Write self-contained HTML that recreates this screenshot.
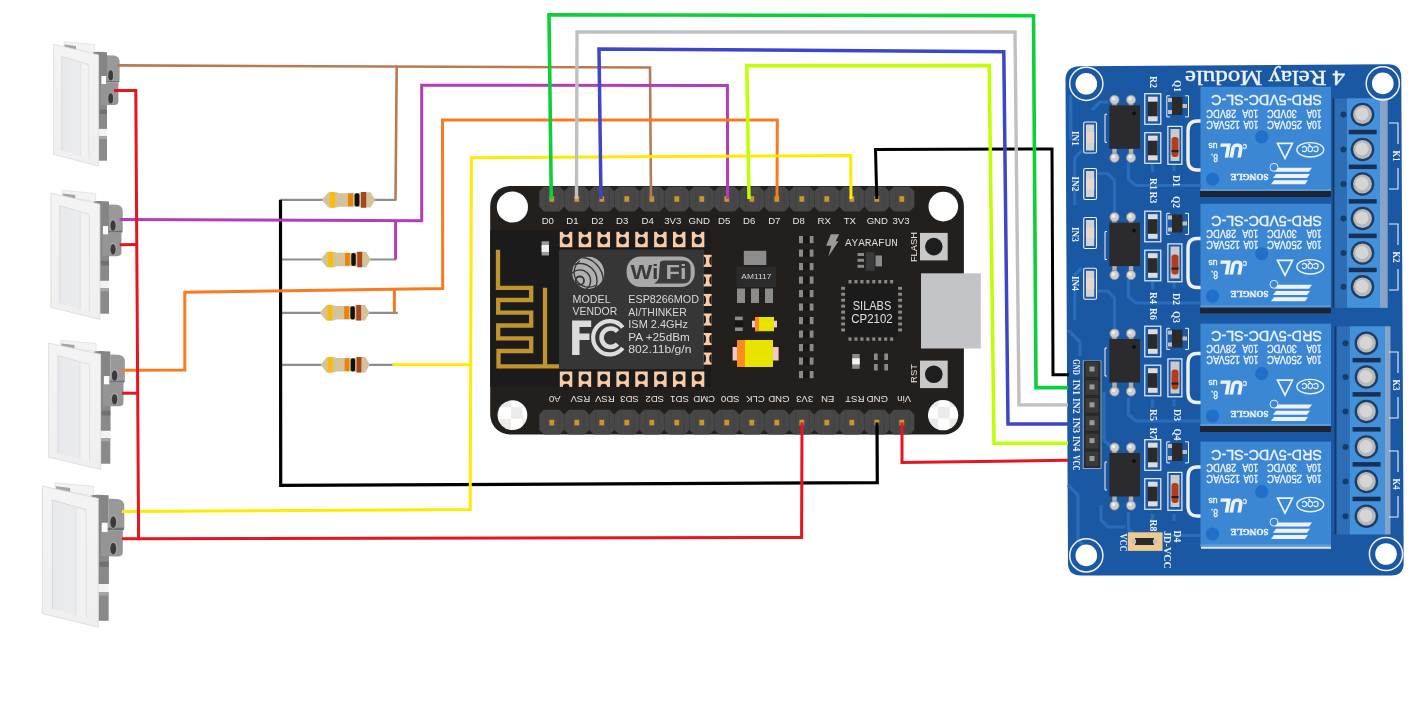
<!DOCTYPE html>
<html><head><meta charset="utf-8"><title>NodeMCU relay wiring</title>
<style>html,body{margin:0;padding:0;background:#fff;width:1416px;height:712px;overflow:hidden} svg{display:block;will-change:transform}</style>
</head><body>
<svg width="1416" height="712" viewBox="0 0 1416 712" font-family='"Liberation Sans", sans-serif'>
<rect width="1416" height="712" fill="#ffffff"/>
<defs><linearGradient id="rock" x1="0" y1="0" x2="1" y2="0"><stop offset="0" stop-color="#e7e9ec"/><stop offset="0.7" stop-color="#eaecee"/><stop offset="1" stop-color="#edeff0"/></linearGradient><linearGradient id="frm" x1="0" y1="0" x2="0" y2="1"><stop offset="0" stop-color="#f4f4f4"/><stop offset="1" stop-color="#efefef"/></linearGradient><linearGradient id="lft" x1="0" y1="0" x2="0" y2="1"><stop offset="0" stop-color="#e5e7ea" stop-opacity="0"/><stop offset="1" stop-color="#e5e7ea" stop-opacity="1"/></linearGradient>
<g id="sw"><polygon points="64,41.5 94.7,44.5 94.7,52.5 64,47.5" fill="#f3f3f3" stroke="#dcdcdc" stroke-width="0.6"/>
<polygon points="64.5,44.5 76,46 76,49.5 64.5,48" fill="#a4a4a4"/>
<path d="M93,52.5 Q95,51.6 99,51.8 L107,52.2 L107,128.9 L97,129 L97,160.7 L93,160.3 Z" fill="#858585"/>
<path d="M107,55.2 L114,55.4 Q119.6,56 119.6,62 L119.6,80.6 L107,80.6 Z" fill="#999999"/>
<path d="M104,80.4 L119.6,80.4 L119,82.6 L104,82.6 Z" fill="#6e6e6e"/>
<path d="M100.7,82.4 L118.4,82.4 L118.4,101.5 Q118.4,105.1 114.5,105.1 L100.7,105.1 Z" fill="#959595"/>
<rect x="99.6" y="105.1" width="7.4" height="23.8" fill="#898989"/>
<rect x="99.6" y="109.6" width="7.4" height="4.4" fill="#707070"/>
<polygon points="98.8,128.9 107,128.9 107,136 98.8,136" fill="#f2f2f2"/>
<polygon points="98.8,136 107,136 107,160.7 98.8,160.7" fill="#8a8a8a"/>
<polygon points="98.8,136 107,136 107,139 98.8,139" fill="#a6a6a6"/>
<polygon points="101.4,76 106.2,76 106.2,84 101.4,84" fill="#fafafa"/>
<ellipse cx="110.9" cy="75.1" rx="3.2" ry="6" fill="#a9a9a9"/><ellipse cx="110.7" cy="75.4" rx="2.4" ry="5.1" fill="#3b3b3b"/>
<ellipse cx="110.9" cy="98.1" rx="3.2" ry="6" fill="#a9a9a9"/><ellipse cx="110.7" cy="98.4" rx="2.4" ry="5.1" fill="#3b3b3b"/>
<polygon points="53.6,44.2 98.6,55 98.6,166.2 53.6,154.5" fill="url(#frm)" stroke="#dcdcdc" stroke-width="0.8"/>
<polygon points="61.7,56.3 88.8,64.7 88.8,158.3 61.7,150.5" fill="url(#rock)"/>
<polygon points="80.5,62.2 88.8,64.7 88.8,158.3 80.5,156" fill="#f2f2f3"/>
<line x1="80.5" y1="63" x2="80.5" y2="156" stroke="#e4e5e7" stroke-width="1.4"/>
<polyline points="61.7,150.5 61.7,56.3 88.8,64.7" fill="none" stroke="#d9dadb" stroke-width="0.9"/>
<line x1="89" y1="64.7" x2="89" y2="158.3" stroke="#e0e0e0" stroke-width="0.8"/></g></defs>
<use href="#sw" transform="translate(53.90,43.70) scale(1.0000,1.0000) translate(-53.9,-43.7)"/>
<use href="#sw" transform="translate(51.20,192.60) scale(1.0888,1.0352) translate(-53.9,-43.7)"/>
<use href="#sw" transform="translate(49.00,342.60) scale(1.1547,1.0352) translate(-53.9,-43.7)"/>
<use href="#sw" transform="translate(42.70,485.40) scale(1.2420,1.1572) translate(-53.9,-43.7)"/>
<line x1="280.5" y1="199.9" x2="396.4" y2="199.9" stroke="#8d8d8d" stroke-width="2.2"/>
<polygon points="321.90,199.90 328.50,192.30 336.50,192.30 339.00,193.20 358.00,193.20 361.00,192.20 370.50,192.20 375.20,199.90 370.50,207.60 361.00,207.60 358.00,206.70 339.00,206.70 336.50,207.60 328.50,207.60" fill="#d4c29b"/>
<rect x="329.80" y="192.10" width="5.10" height="15.60" rx="0.5" fill="#fcbc00"/>
<rect x="348.00" y="193.40" width="5.00" height="12.80" rx="0" fill="#f08200"/>
<rect x="354.60" y="193.30" width="4.80" height="13.20" rx="2" fill="#111111"/>
<rect x="361.00" y="192.10" width="5.20" height="15.60" rx="0.5" fill="#a8451f"/>
<line x1="280.5" y1="259.5" x2="396" y2="259.5" stroke="#8d8d8d" stroke-width="2.2"/>
<polygon points="320.60,259.50 326.79,251.90 334.30,251.90 336.64,252.80 354.46,252.80 357.28,251.80 366.19,251.80 370.60,259.50 366.19,267.20 357.28,267.20 354.46,266.30 336.64,266.30 334.30,267.20 326.79,267.20" fill="#d4c29b"/>
<rect x="328.01" y="251.70" width="4.78" height="15.60" rx="0.5" fill="#fcbc00"/>
<rect x="345.08" y="253.00" width="4.69" height="12.80" rx="0" fill="#f08200"/>
<rect x="351.28" y="252.90" width="4.50" height="13.20" rx="2" fill="#111111"/>
<rect x="357.28" y="251.70" width="4.88" height="15.60" rx="0.5" fill="#a8451f"/>
<line x1="280.5" y1="312.8" x2="397.8" y2="312.8" stroke="#8d8d8d" stroke-width="2.2"/>
<polygon points="320.00,312.80 326.13,305.20 333.56,305.20 335.88,306.10 353.53,306.10 356.31,305.10 365.14,305.10 369.50,312.80 365.14,320.50 356.31,320.50 353.53,319.60 335.88,319.60 333.56,320.50 326.13,320.50" fill="#d4c29b"/>
<rect x="327.34" y="305.00" width="4.74" height="15.60" rx="0.5" fill="#fcbc00"/>
<rect x="344.24" y="306.30" width="4.64" height="12.80" rx="0" fill="#f08200"/>
<rect x="350.37" y="306.20" width="4.46" height="13.20" rx="2" fill="#111111"/>
<rect x="356.31" y="305.00" width="4.83" height="15.60" rx="0.5" fill="#a8451f"/>
<line x1="280.5" y1="364.8" x2="392.7" y2="364.8" stroke="#8d8d8d" stroke-width="2.2"/>
<polygon points="320.60,364.80 326.68,357.20 334.05,357.20 336.35,358.10 353.86,358.10 356.62,357.10 365.37,357.10 369.70,364.80 365.37,372.50 356.62,372.50 353.86,371.60 336.35,371.60 334.05,372.50 326.68,372.50" fill="#d4c29b"/>
<rect x="327.88" y="357.00" width="4.70" height="15.60" rx="0.5" fill="#fcbc00"/>
<rect x="344.64" y="358.30" width="4.61" height="12.80" rx="0" fill="#f08200"/>
<rect x="350.72" y="358.20" width="4.42" height="13.20" rx="2" fill="#111111"/>
<rect x="356.62" y="357.00" width="4.79" height="15.60" rx="0.5" fill="#a8451f"/>
<rect x="490.2" y="186" width="473.7" height="248.6" rx="20" fill="#231f1c"/>
<rect x="490.2" y="230.3" width="220.8" height="156.6" fill="#1b1b1b"/>
<path d="M498,249.8 V287.8 H531.2 V300 H498.2 V312.7 H531.2 V325.5 H498.2 V338.3 H531.2 V351 H498.5 V366.4 H559 M545,287.8 V366.4" fill="none" stroke="#c1952c" stroke-width="4.3"/>
<rect x="559" y="249.7" width="145" height="119.5" fill="#363636"/>
<rect x="559.80" y="231.8" width="12.5" height="15.4" fill="#f8caa6"/>
<circle cx="566.05" cy="240.6" r="3.8" fill="#1b1b1b"/><circle cx="566.05" cy="231.6" r="3.3" fill="#1b1b1b"/>
<rect x="559.80" y="371.5" width="12.5" height="15.4" fill="#f8caa6"/>
<circle cx="566.05" cy="377.7" r="3.8" fill="#1b1b1b"/><circle cx="566.05" cy="387.1" r="3.3" fill="#1b1b1b"/>
<rect x="578.66" y="231.8" width="12.5" height="15.4" fill="#f8caa6"/>
<circle cx="584.91" cy="240.6" r="3.8" fill="#1b1b1b"/><circle cx="584.91" cy="231.6" r="3.3" fill="#1b1b1b"/>
<rect x="578.66" y="371.5" width="12.5" height="15.4" fill="#f8caa6"/>
<circle cx="584.91" cy="377.7" r="3.8" fill="#1b1b1b"/><circle cx="584.91" cy="387.1" r="3.3" fill="#1b1b1b"/>
<rect x="597.52" y="231.8" width="12.5" height="15.4" fill="#f8caa6"/>
<circle cx="603.77" cy="240.6" r="3.8" fill="#1b1b1b"/><circle cx="603.77" cy="231.6" r="3.3" fill="#1b1b1b"/>
<rect x="597.52" y="371.5" width="12.5" height="15.4" fill="#f8caa6"/>
<circle cx="603.77" cy="377.7" r="3.8" fill="#1b1b1b"/><circle cx="603.77" cy="387.1" r="3.3" fill="#1b1b1b"/>
<rect x="616.38" y="231.8" width="12.5" height="15.4" fill="#f8caa6"/>
<circle cx="622.63" cy="240.6" r="3.8" fill="#1b1b1b"/><circle cx="622.63" cy="231.6" r="3.3" fill="#1b1b1b"/>
<rect x="616.38" y="371.5" width="12.5" height="15.4" fill="#f8caa6"/>
<circle cx="622.63" cy="377.7" r="3.8" fill="#1b1b1b"/><circle cx="622.63" cy="387.1" r="3.3" fill="#1b1b1b"/>
<rect x="635.24" y="231.8" width="12.5" height="15.4" fill="#f8caa6"/>
<circle cx="641.49" cy="240.6" r="3.8" fill="#1b1b1b"/><circle cx="641.49" cy="231.6" r="3.3" fill="#1b1b1b"/>
<rect x="635.24" y="371.5" width="12.5" height="15.4" fill="#f8caa6"/>
<circle cx="641.49" cy="377.7" r="3.8" fill="#1b1b1b"/><circle cx="641.49" cy="387.1" r="3.3" fill="#1b1b1b"/>
<rect x="654.10" y="231.8" width="12.5" height="15.4" fill="#f8caa6"/>
<circle cx="660.35" cy="240.6" r="3.8" fill="#1b1b1b"/><circle cx="660.35" cy="231.6" r="3.3" fill="#1b1b1b"/>
<rect x="654.10" y="371.5" width="12.5" height="15.4" fill="#f8caa6"/>
<circle cx="660.35" cy="377.7" r="3.8" fill="#1b1b1b"/><circle cx="660.35" cy="387.1" r="3.3" fill="#1b1b1b"/>
<rect x="672.96" y="231.8" width="12.5" height="15.4" fill="#f8caa6"/>
<circle cx="679.21" cy="240.6" r="3.8" fill="#1b1b1b"/><circle cx="679.21" cy="231.6" r="3.3" fill="#1b1b1b"/>
<rect x="672.96" y="371.5" width="12.5" height="15.4" fill="#f8caa6"/>
<circle cx="679.21" cy="377.7" r="3.8" fill="#1b1b1b"/><circle cx="679.21" cy="387.1" r="3.3" fill="#1b1b1b"/>
<rect x="691.82" y="231.8" width="12.5" height="15.4" fill="#f8caa6"/>
<circle cx="698.07" cy="240.6" r="3.8" fill="#1b1b1b"/><circle cx="698.07" cy="231.6" r="3.3" fill="#1b1b1b"/>
<rect x="691.82" y="371.5" width="12.5" height="15.4" fill="#f8caa6"/>
<circle cx="698.07" cy="377.7" r="3.8" fill="#1b1b1b"/><circle cx="698.07" cy="387.1" r="3.3" fill="#1b1b1b"/>
<rect x="703.7" y="254.80" width="7.9" height="12.1" fill="#f8caa6"/>
<path d="M711.6,256.60 A2.3,4.2 0 0 0 711.6,265.00 Z" fill="#1b1b1b"/>
<path d="M703.7,256.60 A2.3,4.2 0 0 1 703.7,265.00 Z" fill="#1b1b1b"/>
<rect x="703.7" y="274.35" width="7.9" height="12.1" fill="#f8caa6"/>
<path d="M711.6,276.15 A2.3,4.2 0 0 0 711.6,284.55 Z" fill="#1b1b1b"/>
<path d="M703.7,276.15 A2.3,4.2 0 0 1 703.7,284.55 Z" fill="#1b1b1b"/>
<rect x="703.7" y="293.90" width="7.9" height="12.1" fill="#f8caa6"/>
<path d="M711.6,295.70 A2.3,4.2 0 0 0 711.6,304.10 Z" fill="#1b1b1b"/>
<path d="M703.7,295.70 A2.3,4.2 0 0 1 703.7,304.10 Z" fill="#1b1b1b"/>
<rect x="703.7" y="313.45" width="7.9" height="12.1" fill="#f8caa6"/>
<path d="M711.6,315.25 A2.3,4.2 0 0 0 711.6,323.65 Z" fill="#1b1b1b"/>
<path d="M703.7,315.25 A2.3,4.2 0 0 1 703.7,323.65 Z" fill="#1b1b1b"/>
<rect x="703.7" y="333.00" width="7.9" height="12.1" fill="#f8caa6"/>
<path d="M711.6,334.80 A2.3,4.2 0 0 0 711.6,343.20 Z" fill="#1b1b1b"/>
<path d="M703.7,334.80 A2.3,4.2 0 0 1 703.7,343.20 Z" fill="#1b1b1b"/>
<rect x="703.7" y="352.55" width="7.9" height="12.1" fill="#f8caa6"/>
<path d="M711.6,354.35 A2.3,4.2 0 0 0 711.6,362.75 Z" fill="#1b1b1b"/>
<path d="M703.7,354.35 A2.3,4.2 0 0 1 703.7,362.75 Z" fill="#1b1b1b"/>
<rect x="541.6" y="241.3" width="7.4" height="14.2" fill="#9a9a9a"/><rect x="541.6" y="245" width="7.4" height="7" fill="#f0f0f0"/>
<circle cx="512.4" cy="207" r="15.6" fill="#fff"/>
<circle cx="943.3" cy="206.6" r="14.8" fill="#fff"/>
<defs><pattern id="chk1" patternUnits="userSpaceOnUse" x="499.3" y="407.1" width="23.4" height="23.4"><rect width="23.4" height="23.4" fill="#fff"/><rect x="11.7" y="0" width="11.7" height="11.7" fill="#ebebeb"/><rect x="0" y="11.7" width="11.7" height="11.7" fill="#ebebeb"/></pattern><pattern id="chk2" patternUnits="userSpaceOnUse" x="938" y="406.8" width="23.2" height="23.2"><rect width="23.2" height="23.2" fill="#fff"/><rect x="0" y="0" width="11.6" height="11.6" fill="#ebebeb"/><rect x="11.6" y="11.6" width="11.6" height="11.6" fill="#ebebeb"/></pattern></defs>
<circle cx="512.4" cy="415.1" r="14.9" fill="url(#chk1)"/>
<circle cx="943.1" cy="415.2" r="15.1" fill="url(#chk2)"/>
<polygon points="544.00,186.6 559.60,186.6 564.30,191.29999999999998 564.30,206.8 559.60,211.5 544.00,211.5 539.30,206.8 539.30,191.29999999999998" fill="#474747"/>
<rect x="545.50" y="187.6" width="0.8" height="22.900000000000006" fill="#414141"/><rect x="558.70" y="187.6" width="0.8" height="22.900000000000006" fill="#414141"/>
<rect x="549.40" y="196.20" width="4.8" height="5.6" fill="#c8962e"/>
<polygon points="569.00,186.6 584.60,186.6 589.30,191.29999999999998 589.30,206.8 584.60,211.5 569.00,211.5 564.30,206.8 564.30,191.29999999999998" fill="#474747"/>
<rect x="570.50" y="187.6" width="0.8" height="22.900000000000006" fill="#414141"/><rect x="583.70" y="187.6" width="0.8" height="22.900000000000006" fill="#414141"/>
<rect x="574.40" y="196.20" width="4.8" height="5.6" fill="#c8962e"/>
<polygon points="594.00,186.6 609.60,186.6 614.30,191.29999999999998 614.30,206.8 609.60,211.5 594.00,211.5 589.30,206.8 589.30,191.29999999999998" fill="#474747"/>
<rect x="595.50" y="187.6" width="0.8" height="22.900000000000006" fill="#414141"/><rect x="608.70" y="187.6" width="0.8" height="22.900000000000006" fill="#414141"/>
<rect x="599.40" y="196.20" width="4.8" height="5.6" fill="#c8962e"/>
<polygon points="619.00,186.6 634.60,186.6 639.30,191.29999999999998 639.30,206.8 634.60,211.5 619.00,211.5 614.30,206.8 614.30,191.29999999999998" fill="#474747"/>
<rect x="620.50" y="187.6" width="0.8" height="22.900000000000006" fill="#414141"/><rect x="633.70" y="187.6" width="0.8" height="22.900000000000006" fill="#414141"/>
<rect x="624.40" y="196.20" width="4.8" height="5.6" fill="#c8962e"/>
<polygon points="644.00,186.6 659.60,186.6 664.30,191.29999999999998 664.30,206.8 659.60,211.5 644.00,211.5 639.30,206.8 639.30,191.29999999999998" fill="#474747"/>
<rect x="645.50" y="187.6" width="0.8" height="22.900000000000006" fill="#414141"/><rect x="658.70" y="187.6" width="0.8" height="22.900000000000006" fill="#414141"/>
<rect x="649.40" y="196.20" width="4.8" height="5.6" fill="#c8962e"/>
<polygon points="669.00,186.6 684.60,186.6 689.30,191.29999999999998 689.30,206.8 684.60,211.5 669.00,211.5 664.30,206.8 664.30,191.29999999999998" fill="#474747"/>
<rect x="670.50" y="187.6" width="0.8" height="22.900000000000006" fill="#414141"/><rect x="683.70" y="187.6" width="0.8" height="22.900000000000006" fill="#414141"/>
<rect x="674.40" y="196.20" width="4.8" height="5.6" fill="#c8962e"/>
<polygon points="694.00,186.6 709.60,186.6 714.30,191.29999999999998 714.30,206.8 709.60,211.5 694.00,211.5 689.30,206.8 689.30,191.29999999999998" fill="#474747"/>
<rect x="695.50" y="187.6" width="0.8" height="22.900000000000006" fill="#414141"/><rect x="708.70" y="187.6" width="0.8" height="22.900000000000006" fill="#414141"/>
<rect x="699.40" y="196.20" width="4.8" height="5.6" fill="#c8962e"/>
<polygon points="719.00,186.6 734.60,186.6 739.30,191.29999999999998 739.30,206.8 734.60,211.5 719.00,211.5 714.30,206.8 714.30,191.29999999999998" fill="#474747"/>
<rect x="720.50" y="187.6" width="0.8" height="22.900000000000006" fill="#414141"/><rect x="733.70" y="187.6" width="0.8" height="22.900000000000006" fill="#414141"/>
<rect x="724.40" y="196.20" width="4.8" height="5.6" fill="#c8962e"/>
<polygon points="744.00,186.6 759.60,186.6 764.30,191.29999999999998 764.30,206.8 759.60,211.5 744.00,211.5 739.30,206.8 739.30,191.29999999999998" fill="#474747"/>
<rect x="745.50" y="187.6" width="0.8" height="22.900000000000006" fill="#414141"/><rect x="758.70" y="187.6" width="0.8" height="22.900000000000006" fill="#414141"/>
<rect x="749.40" y="196.20" width="4.8" height="5.6" fill="#c8962e"/>
<polygon points="769.00,186.6 784.60,186.6 789.30,191.29999999999998 789.30,206.8 784.60,211.5 769.00,211.5 764.30,206.8 764.30,191.29999999999998" fill="#474747"/>
<rect x="770.50" y="187.6" width="0.8" height="22.900000000000006" fill="#414141"/><rect x="783.70" y="187.6" width="0.8" height="22.900000000000006" fill="#414141"/>
<rect x="774.40" y="196.20" width="4.8" height="5.6" fill="#c8962e"/>
<polygon points="794.00,186.6 809.60,186.6 814.30,191.29999999999998 814.30,206.8 809.60,211.5 794.00,211.5 789.30,206.8 789.30,191.29999999999998" fill="#474747"/>
<rect x="795.50" y="187.6" width="0.8" height="22.900000000000006" fill="#414141"/><rect x="808.70" y="187.6" width="0.8" height="22.900000000000006" fill="#414141"/>
<rect x="799.40" y="196.20" width="4.8" height="5.6" fill="#c8962e"/>
<polygon points="819.00,186.6 834.60,186.6 839.30,191.29999999999998 839.30,206.8 834.60,211.5 819.00,211.5 814.30,206.8 814.30,191.29999999999998" fill="#474747"/>
<rect x="820.50" y="187.6" width="0.8" height="22.900000000000006" fill="#414141"/><rect x="833.70" y="187.6" width="0.8" height="22.900000000000006" fill="#414141"/>
<rect x="824.40" y="196.20" width="4.8" height="5.6" fill="#c8962e"/>
<polygon points="844.00,186.6 859.60,186.6 864.30,191.29999999999998 864.30,206.8 859.60,211.5 844.00,211.5 839.30,206.8 839.30,191.29999999999998" fill="#474747"/>
<rect x="845.50" y="187.6" width="0.8" height="22.900000000000006" fill="#414141"/><rect x="858.70" y="187.6" width="0.8" height="22.900000000000006" fill="#414141"/>
<rect x="849.40" y="196.20" width="4.8" height="5.6" fill="#c8962e"/>
<polygon points="869.00,186.6 884.60,186.6 889.30,191.29999999999998 889.30,206.8 884.60,211.5 869.00,211.5 864.30,206.8 864.30,191.29999999999998" fill="#474747"/>
<rect x="870.50" y="187.6" width="0.8" height="22.900000000000006" fill="#414141"/><rect x="883.70" y="187.6" width="0.8" height="22.900000000000006" fill="#414141"/>
<rect x="874.40" y="196.20" width="4.8" height="5.6" fill="#c8962e"/>
<polygon points="894.00,186.6 909.60,186.6 914.30,191.29999999999998 914.30,206.8 909.60,211.5 894.00,211.5 889.30,206.8 889.30,191.29999999999998" fill="#474747"/>
<rect x="895.50" y="187.6" width="0.8" height="22.900000000000006" fill="#414141"/><rect x="908.70" y="187.6" width="0.8" height="22.900000000000006" fill="#414141"/>
<rect x="899.40" y="196.20" width="4.8" height="5.6" fill="#c8962e"/>
<polygon points="544.00,409.8 559.60,409.8 564.30,414.5 564.30,429.90000000000003 559.60,434.6 544.00,434.6 539.30,429.90000000000003 539.30,414.5" fill="#474747"/>
<rect x="545.50" y="410.8" width="0.8" height="22.80000000000001" fill="#414141"/><rect x="558.70" y="410.8" width="0.8" height="22.80000000000001" fill="#414141"/>
<rect x="549.40" y="419.80" width="4.8" height="5.6" fill="#c8962e"/>
<polygon points="569.00,409.8 584.60,409.8 589.30,414.5 589.30,429.90000000000003 584.60,434.6 569.00,434.6 564.30,429.90000000000003 564.30,414.5" fill="#474747"/>
<rect x="570.50" y="410.8" width="0.8" height="22.80000000000001" fill="#414141"/><rect x="583.70" y="410.8" width="0.8" height="22.80000000000001" fill="#414141"/>
<rect x="574.40" y="419.80" width="4.8" height="5.6" fill="#c8962e"/>
<polygon points="594.00,409.8 609.60,409.8 614.30,414.5 614.30,429.90000000000003 609.60,434.6 594.00,434.6 589.30,429.90000000000003 589.30,414.5" fill="#474747"/>
<rect x="595.50" y="410.8" width="0.8" height="22.80000000000001" fill="#414141"/><rect x="608.70" y="410.8" width="0.8" height="22.80000000000001" fill="#414141"/>
<rect x="599.40" y="419.80" width="4.8" height="5.6" fill="#c8962e"/>
<polygon points="619.00,409.8 634.60,409.8 639.30,414.5 639.30,429.90000000000003 634.60,434.6 619.00,434.6 614.30,429.90000000000003 614.30,414.5" fill="#474747"/>
<rect x="620.50" y="410.8" width="0.8" height="22.80000000000001" fill="#414141"/><rect x="633.70" y="410.8" width="0.8" height="22.80000000000001" fill="#414141"/>
<rect x="624.40" y="419.80" width="4.8" height="5.6" fill="#c8962e"/>
<polygon points="644.00,409.8 659.60,409.8 664.30,414.5 664.30,429.90000000000003 659.60,434.6 644.00,434.6 639.30,429.90000000000003 639.30,414.5" fill="#474747"/>
<rect x="645.50" y="410.8" width="0.8" height="22.80000000000001" fill="#414141"/><rect x="658.70" y="410.8" width="0.8" height="22.80000000000001" fill="#414141"/>
<rect x="649.40" y="419.80" width="4.8" height="5.6" fill="#c8962e"/>
<polygon points="669.00,409.8 684.60,409.8 689.30,414.5 689.30,429.90000000000003 684.60,434.6 669.00,434.6 664.30,429.90000000000003 664.30,414.5" fill="#474747"/>
<rect x="670.50" y="410.8" width="0.8" height="22.80000000000001" fill="#414141"/><rect x="683.70" y="410.8" width="0.8" height="22.80000000000001" fill="#414141"/>
<rect x="674.40" y="419.80" width="4.8" height="5.6" fill="#c8962e"/>
<polygon points="694.00,409.8 709.60,409.8 714.30,414.5 714.30,429.90000000000003 709.60,434.6 694.00,434.6 689.30,429.90000000000003 689.30,414.5" fill="#474747"/>
<rect x="695.50" y="410.8" width="0.8" height="22.80000000000001" fill="#414141"/><rect x="708.70" y="410.8" width="0.8" height="22.80000000000001" fill="#414141"/>
<rect x="699.40" y="419.80" width="4.8" height="5.6" fill="#c8962e"/>
<polygon points="719.00,409.8 734.60,409.8 739.30,414.5 739.30,429.90000000000003 734.60,434.6 719.00,434.6 714.30,429.90000000000003 714.30,414.5" fill="#474747"/>
<rect x="720.50" y="410.8" width="0.8" height="22.80000000000001" fill="#414141"/><rect x="733.70" y="410.8" width="0.8" height="22.80000000000001" fill="#414141"/>
<rect x="724.40" y="419.80" width="4.8" height="5.6" fill="#c8962e"/>
<polygon points="744.00,409.8 759.60,409.8 764.30,414.5 764.30,429.90000000000003 759.60,434.6 744.00,434.6 739.30,429.90000000000003 739.30,414.5" fill="#474747"/>
<rect x="745.50" y="410.8" width="0.8" height="22.80000000000001" fill="#414141"/><rect x="758.70" y="410.8" width="0.8" height="22.80000000000001" fill="#414141"/>
<rect x="749.40" y="419.80" width="4.8" height="5.6" fill="#c8962e"/>
<polygon points="769.00,409.8 784.60,409.8 789.30,414.5 789.30,429.90000000000003 784.60,434.6 769.00,434.6 764.30,429.90000000000003 764.30,414.5" fill="#474747"/>
<rect x="770.50" y="410.8" width="0.8" height="22.80000000000001" fill="#414141"/><rect x="783.70" y="410.8" width="0.8" height="22.80000000000001" fill="#414141"/>
<rect x="774.40" y="419.80" width="4.8" height="5.6" fill="#c8962e"/>
<polygon points="794.00,409.8 809.60,409.8 814.30,414.5 814.30,429.90000000000003 809.60,434.6 794.00,434.6 789.30,429.90000000000003 789.30,414.5" fill="#474747"/>
<rect x="795.50" y="410.8" width="0.8" height="22.80000000000001" fill="#414141"/><rect x="808.70" y="410.8" width="0.8" height="22.80000000000001" fill="#414141"/>
<rect x="799.40" y="419.80" width="4.8" height="5.6" fill="#c8962e"/>
<polygon points="819.00,409.8 834.60,409.8 839.30,414.5 839.30,429.90000000000003 834.60,434.6 819.00,434.6 814.30,429.90000000000003 814.30,414.5" fill="#474747"/>
<rect x="820.50" y="410.8" width="0.8" height="22.80000000000001" fill="#414141"/><rect x="833.70" y="410.8" width="0.8" height="22.80000000000001" fill="#414141"/>
<rect x="824.40" y="419.80" width="4.8" height="5.6" fill="#c8962e"/>
<polygon points="844.00,409.8 859.60,409.8 864.30,414.5 864.30,429.90000000000003 859.60,434.6 844.00,434.6 839.30,429.90000000000003 839.30,414.5" fill="#474747"/>
<rect x="845.50" y="410.8" width="0.8" height="22.80000000000001" fill="#414141"/><rect x="858.70" y="410.8" width="0.8" height="22.80000000000001" fill="#414141"/>
<rect x="849.40" y="419.80" width="4.8" height="5.6" fill="#c8962e"/>
<polygon points="869.00,409.8 884.60,409.8 889.30,414.5 889.30,429.90000000000003 884.60,434.6 869.00,434.6 864.30,429.90000000000003 864.30,414.5" fill="#474747"/>
<rect x="870.50" y="410.8" width="0.8" height="22.80000000000001" fill="#414141"/><rect x="883.70" y="410.8" width="0.8" height="22.80000000000001" fill="#414141"/>
<rect x="874.40" y="419.80" width="4.8" height="5.6" fill="#c8962e"/>
<polygon points="894.00,409.8 909.60,409.8 914.30,414.5 914.30,429.90000000000003 909.60,434.6 894.00,434.6 889.30,429.90000000000003 889.30,414.5" fill="#474747"/>
<rect x="895.50" y="410.8" width="0.8" height="22.80000000000001" fill="#414141"/><rect x="908.70" y="410.8" width="0.8" height="22.80000000000001" fill="#414141"/>
<rect x="899.40" y="419.80" width="4.8" height="5.6" fill="#c8962e"/>
<text x="547.80" y="223.8" font-size="9.6" fill="#e6e6e6" text-anchor="middle">D0</text>
<text x="572.40" y="223.8" font-size="9.6" fill="#e6e6e6" text-anchor="middle">D1</text>
<text x="597.50" y="223.8" font-size="9.6" fill="#e6e6e6" text-anchor="middle">D2</text>
<text x="622.20" y="223.8" font-size="9.6" fill="#e6e6e6" text-anchor="middle">D3</text>
<text x="647.60" y="223.8" font-size="9.6" fill="#e6e6e6" text-anchor="middle">D4</text>
<text x="672.70" y="223.8" font-size="9.6" fill="#e6e6e6" text-anchor="middle">3V3</text>
<text x="699.20" y="223.8" font-size="9.6" fill="#e6e6e6" text-anchor="middle">GND</text>
<text x="724.10" y="223.8" font-size="9.6" fill="#e6e6e6" text-anchor="middle">D5</text>
<text x="749.10" y="223.8" font-size="9.6" fill="#e6e6e6" text-anchor="middle">D6</text>
<text x="774.30" y="223.8" font-size="9.6" fill="#e6e6e6" text-anchor="middle">D7</text>
<text x="798.60" y="223.8" font-size="9.6" fill="#e6e6e6" text-anchor="middle">D8</text>
<text x="824.20" y="223.8" font-size="9.6" fill="#e6e6e6" text-anchor="middle">RX</text>
<text x="849.80" y="223.8" font-size="9.6" fill="#e6e6e6" text-anchor="middle">TX</text>
<text x="877.30" y="223.8" font-size="9.6" fill="#e6e6e6" text-anchor="middle">GND</text>
<text x="901.00" y="223.8" font-size="9.6" fill="#e6e6e6" text-anchor="middle">3V3</text>
<text transform="translate(554.70,396.4) rotate(180)" font-size="9.6" fill="#e6e6e6" text-anchor="middle">A0</text>
<text transform="translate(580.40,396.4) rotate(180)" font-size="9.6" fill="#e6e6e6" text-anchor="middle">RSV</text>
<text transform="translate(604.90,396.4) rotate(180)" font-size="9.6" fill="#e6e6e6" text-anchor="middle">RSV</text>
<text transform="translate(629.50,396.4) rotate(180)" font-size="9.6" fill="#e6e6e6" text-anchor="middle">SD3</text>
<text transform="translate(654.70,396.4) rotate(180)" font-size="9.6" fill="#e6e6e6" text-anchor="middle">SD2</text>
<text transform="translate(679.60,396.4) rotate(180)" font-size="9.6" fill="#e6e6e6" text-anchor="middle">SD1</text>
<text transform="translate(704.20,396.4) rotate(180)" font-size="9.6" fill="#e6e6e6" text-anchor="middle">CMD</text>
<text transform="translate(730.20,396.4) rotate(180)" font-size="9.6" fill="#e6e6e6" text-anchor="middle">SD0</text>
<text transform="translate(755.40,396.4) rotate(180)" font-size="9.6" fill="#e6e6e6" text-anchor="middle">CLK</text>
<text transform="translate(778.90,396.4) rotate(180)" font-size="9.6" fill="#e6e6e6" text-anchor="middle">GND</text>
<text transform="translate(804.60,396.4) rotate(180)" font-size="9.6" fill="#e6e6e6" text-anchor="middle">3V3</text>
<text transform="translate(827.70,396.4) rotate(180)" font-size="9.6" fill="#e6e6e6" text-anchor="middle">EN</text>
<text transform="translate(854.80,396.4) rotate(180)" font-size="9.6" fill="#e6e6e6" text-anchor="middle">RST</text>
<text transform="translate(877.30,396.4) rotate(180)" font-size="9.6" fill="#e6e6e6" text-anchor="middle">GND</text>
<text transform="translate(904.10,396.4) rotate(180)" font-size="9.6" fill="#e6e6e6" text-anchor="middle">Vin</text>
<rect x="921" y="273.3" width="59.8" height="75.2" fill="#c3c4c7"/>
<rect x="920" y="232.9" width="27.7" height="27.5" fill="#c8c8c8"/>
<circle cx="933.8" cy="246.60" r="8.8" fill="#1e1e1e"/>
<rect x="920" y="360.6" width="27.7" height="27.5" fill="#c8c8c8"/>
<circle cx="933.8" cy="374.30" r="8.8" fill="#1e1e1e"/>
<text transform="translate(916.5,247) rotate(-90)" font-size="9.4" fill="#e6e6e6" text-anchor="middle">FLASH</text>
<text transform="translate(916.5,373.5) rotate(-90)" font-size="9.4" fill="#e6e6e6" text-anchor="middle">RST</text>
<defs><clipPath id="espc"><circle cx="588.2" cy="272.8" r="16.2"/></clipPath></defs>
<g clip-path="url(#espc)"><circle cx="588.2" cy="272.8" r="16.2" fill="#b0b0b0"/><g fill="none" stroke="#363636" stroke-width="1.4"><circle cx="579.8" cy="280.7" r="4.2" stroke-width="1.8"/><circle cx="579.8" cy="280.7" r="10.8"/><circle cx="579.8" cy="280.7" r="17.2"/><circle cx="579.8" cy="280.7" r="23.4"/><path d="M595.5,285.5 A14.7,14.7 0 0 1 579.8,260.8" stroke-width="1.3"/></g><path d="M562,262 L576,256 L577,262 Z" fill="#363636"/></g>
<rect x="626.6" y="256.4" width="68.2" height="30.7" rx="14" fill="#a9a9a9"/>
<path d="M660,262 Q662,260.6 665,260.6 L683,260.6 Q690.6,260.6 690.6,268 L690.6,276 Q690.6,283.4 683,283.4 L654,283.4 Q659,281 659,276 Z" fill="#3b3b3b"/>
<text x="630.5" y="279.3" font-size="20.5" font-weight="bold" fill="#3b3b3b" textLength="28" lengthAdjust="spacingAndGlyphs">Wi</text>
<text x="665.5" y="279.3" font-size="20.5" font-weight="bold" fill="#a9a9a9" textLength="21" lengthAdjust="spacingAndGlyphs">Fi</text>
<text x="572.6" y="303.3" font-size="11.2" fill="#d9d9d9" textLength="38" lengthAdjust="spacingAndGlyphs">MODEL</text>
<text x="572.6" y="315.4" font-size="11.2" fill="#d9d9d9" textLength="44.7" lengthAdjust="spacingAndGlyphs">VENDOR</text>
<text x="628.3" y="303.3" font-size="11.2" fill="#d9d9d9" textLength="70.7" lengthAdjust="spacingAndGlyphs">ESP8266MOD</text>
<text x="628.3" y="315.8" font-size="11.2" fill="#d9d9d9" textLength="58.4" lengthAdjust="spacingAndGlyphs">AI/THINKER</text>
<text x="628.3" y="328.4" font-size="11.2" fill="#d9d9d9" textLength="59.7" lengthAdjust="spacingAndGlyphs">ISM 2.4GHz</text>
<text x="628.3" y="340.7" font-size="11.2" fill="#d9d9d9" textLength="61.5" lengthAdjust="spacingAndGlyphs">PA +25dBm</text>
<text x="628.3" y="352.8" font-size="11.2" fill="#d9d9d9" textLength="63.2" lengthAdjust="spacingAndGlyphs">802.11b/g/n</text>
<path d="M572.1,320.5 H591.2 V327 H579.5 V333.5 H589.5 V340 H579.5 V355 H572.1 Z" fill="#dcdcdc"/>
<path d="M622.8,327.5 A16.6,16.6 0 1 0 622.8,348" fill="none" stroke="#dcdcdc" stroke-width="4.2"/>
<path d="M617.5,331.5 A9.2,9.2 0 1 0 617.5,344" fill="none" stroke="#dcdcdc" stroke-width="4.6"/>
<rect x="743.8" y="250.8" width="22.5" height="14.2" fill="#8c8c8c"/>
<rect x="736.6" y="266.7" width="39.4" height="20.3" fill="#2b2b2b"/>
<text x="756.3" y="279.2" font-size="7.6" fill="#d6d6d6" text-anchor="middle" textLength="30" lengthAdjust="spacingAndGlyphs">AM1117</text>
<rect x="737" y="288.5" width="8" height="14.5" fill="#8c8c8c"/>
<rect x="751" y="288.5" width="8" height="14.5" fill="#8c8c8c"/>
<rect x="765" y="288.5" width="8" height="14.5" fill="#8c8c8c"/>
<rect x="735" y="320.2" width="7.7" height="7.2" fill="#161616"/><rect x="735" y="316.6" width="7.7" height="3.6" fill="#8c8c8c"/><rect x="735" y="327.4" width="7.7" height="3.6" fill="#8c8c8c"/>
<rect x="752" y="320.7" width="25" height="6.7" fill="#f0c8c8"/>
<rect x="755" y="317" width="19" height="14.2" fill="#e8e400"/><rect x="755" y="317" width="4" height="14.2" fill="#ff8a1e"/>
<rect x="732.6" y="347" width="46" height="13.5" fill="#f0c8c8"/>
<rect x="737" y="340" width="36" height="27" fill="#e8e400"/><rect x="737" y="340" width="8" height="27" fill="#ff8a1e"/>
<rect x="803" y="236.0" width="6.7" height="7.2" fill="#161616"/><rect x="799" y="236.0" width="4" height="7.2" fill="#8a8a8a"/><rect x="809.7" y="236.0" width="3.8" height="7.2" fill="#8a8a8a"/>
<rect x="803" y="249.5" width="6.7" height="7.2" fill="#161616"/><rect x="799" y="249.5" width="4" height="7.2" fill="#8a8a8a"/><rect x="809.7" y="249.5" width="3.8" height="7.2" fill="#8a8a8a"/>
<rect x="803" y="263.0" width="6.7" height="7.2" fill="#161616"/><rect x="799" y="263.0" width="4" height="7.2" fill="#8a8a8a"/><rect x="809.7" y="263.0" width="3.8" height="7.2" fill="#8a8a8a"/>
<rect x="803" y="276.5" width="6.7" height="7.2" fill="#161616"/><rect x="799" y="276.5" width="4" height="7.2" fill="#8a8a8a"/><rect x="809.7" y="276.5" width="3.8" height="7.2" fill="#8a8a8a"/>
<rect x="803" y="290.0" width="6.7" height="7.2" fill="#161616"/><rect x="799" y="290.0" width="4" height="7.2" fill="#8a8a8a"/><rect x="809.7" y="290.0" width="3.8" height="7.2" fill="#8a8a8a"/>
<rect x="803" y="303.5" width="6.7" height="7.2" fill="#161616"/><rect x="799" y="303.5" width="4" height="7.2" fill="#8a8a8a"/><rect x="809.7" y="303.5" width="3.8" height="7.2" fill="#8a8a8a"/>
<rect x="803" y="317.0" width="6.7" height="7.2" fill="#161616"/><rect x="799" y="317.0" width="4" height="7.2" fill="#8a8a8a"/><rect x="809.7" y="317.0" width="3.8" height="7.2" fill="#8a8a8a"/>
<rect x="803" y="330.5" width="6.7" height="7.2" fill="#161616"/><rect x="799" y="330.5" width="4" height="7.2" fill="#8a8a8a"/><rect x="809.7" y="330.5" width="3.8" height="7.2" fill="#8a8a8a"/>
<rect x="803" y="344.0" width="6.7" height="7.2" fill="#161616"/><rect x="799" y="344.0" width="4" height="7.2" fill="#8a8a8a"/><rect x="809.7" y="344.0" width="3.8" height="7.2" fill="#8a8a8a"/>
<rect x="803" y="357.5" width="6.7" height="7.2" fill="#161616"/><rect x="799" y="357.5" width="4" height="7.2" fill="#8a8a8a"/><rect x="809.7" y="357.5" width="3.8" height="7.2" fill="#8a8a8a"/>
<rect x="803" y="371.0" width="6.7" height="7.2" fill="#161616"/><rect x="799" y="371.0" width="4" height="7.2" fill="#8a8a8a"/><rect x="809.7" y="371.0" width="3.8" height="7.2" fill="#8a8a8a"/>
<polygon points="830.9,234.2 839.2,234.2 835.7,241.3 838.5,241.3 828.3,256.6 831.3,245.7 826.1,245.7" fill="#9a9a9a"/>
<text x="845" y="245.7" font-family="Liberation Mono, monospace" font-size="10.8" fill="#d9d9d9" textLength="53" lengthAdjust="spacingAndGlyphs">AYARAFUN</text>
<rect x="857.5" y="253" width="6.5" height="3" fill="#8a8a8a"/>
<rect x="857.5" y="258.8" width="6.5" height="3" fill="#8a8a8a"/>
<rect x="857.5" y="264.8" width="6.5" height="3" fill="#8a8a8a"/>
<rect x="865.8" y="252.2" width="8.7" height="18.6" fill="#3a3a3a"/><rect x="875.5" y="255.5" width="6.5" height="10.9" fill="#8a8a8a"/>
<rect x="846" y="284.3" width="51.3" height="51.8" fill="#1b1b1b"/>
<rect x="848.50" y="280" width="3" height="3.4" fill="#8a8a8a"/><rect x="848.50" y="337.4" width="3" height="3.4" fill="#8a8a8a"/>
<rect x="841.2" y="286.80" width="3.8" height="3" fill="#8a8a8a"/><rect x="898.2" y="286.80" width="3.8" height="3" fill="#8a8a8a"/>
<rect x="854.45" y="280" width="3" height="3.4" fill="#8a8a8a"/><rect x="854.45" y="337.4" width="3" height="3.4" fill="#8a8a8a"/>
<rect x="841.2" y="292.75" width="3.8" height="3" fill="#8a8a8a"/><rect x="898.2" y="292.75" width="3.8" height="3" fill="#8a8a8a"/>
<rect x="860.40" y="280" width="3" height="3.4" fill="#8a8a8a"/><rect x="860.40" y="337.4" width="3" height="3.4" fill="#8a8a8a"/>
<rect x="841.2" y="298.70" width="3.8" height="3" fill="#8a8a8a"/><rect x="898.2" y="298.70" width="3.8" height="3" fill="#8a8a8a"/>
<rect x="866.35" y="280" width="3" height="3.4" fill="#8a8a8a"/><rect x="866.35" y="337.4" width="3" height="3.4" fill="#8a8a8a"/>
<rect x="841.2" y="304.65" width="3.8" height="3" fill="#8a8a8a"/><rect x="898.2" y="304.65" width="3.8" height="3" fill="#8a8a8a"/>
<rect x="872.30" y="280" width="3" height="3.4" fill="#8a8a8a"/><rect x="872.30" y="337.4" width="3" height="3.4" fill="#8a8a8a"/>
<rect x="841.2" y="310.60" width="3.8" height="3" fill="#8a8a8a"/><rect x="898.2" y="310.60" width="3.8" height="3" fill="#8a8a8a"/>
<rect x="878.25" y="280" width="3" height="3.4" fill="#8a8a8a"/><rect x="878.25" y="337.4" width="3" height="3.4" fill="#8a8a8a"/>
<rect x="841.2" y="316.55" width="3.8" height="3" fill="#8a8a8a"/><rect x="898.2" y="316.55" width="3.8" height="3" fill="#8a8a8a"/>
<rect x="884.20" y="280" width="3" height="3.4" fill="#8a8a8a"/><rect x="884.20" y="337.4" width="3" height="3.4" fill="#8a8a8a"/>
<rect x="841.2" y="322.50" width="3.8" height="3" fill="#8a8a8a"/><rect x="898.2" y="322.50" width="3.8" height="3" fill="#8a8a8a"/>
<rect x="890.15" y="280" width="3" height="3.4" fill="#8a8a8a"/><rect x="890.15" y="337.4" width="3" height="3.4" fill="#8a8a8a"/>
<rect x="841.2" y="328.45" width="3.8" height="3" fill="#8a8a8a"/><rect x="898.2" y="328.45" width="3.8" height="3" fill="#8a8a8a"/>
<text x="872" y="309.5" font-size="12" fill="#e0e0e0" text-anchor="middle" textLength="38.5" lengthAdjust="spacingAndGlyphs">SILABS</text>
<text x="872" y="323" font-size="12" fill="#e0e0e0" text-anchor="middle" textLength="41.4" lengthAdjust="spacingAndGlyphs">CP2102</text>
<rect x="852.2" y="354" width="7.5" height="14.8" fill="#8a8a8a"/><rect x="852.2" y="358.3" width="7.5" height="6.1" fill="#f4f4f4"/>
<rect x="874" y="353.5" width="3.7" height="6.5" fill="#8a8a8a"/><rect x="874" y="364" width="3.7" height="6.5" fill="#8a8a8a"/>
<rect x="884.3" y="353.5" width="3.7" height="6.5" fill="#8a8a8a"/><rect x="884.3" y="364" width="3.7" height="6.5" fill="#8a8a8a"/>
<path d="M1080,66.3 L1388,64.2 Q1401,64.2 1401.3,77 L1403.7,563 Q1403.7,575.5 1391,575.5 L1081,575.5 Q1068,575.5 1068,563 L1065.5,80 Q1065.5,66.4 1080,66.3 Z" fill="#1a58a3"/>
<path d="M1128.4,162 V179.2 L1136,185.5 H1200 M1152.5,164 V172 M1174,164 V171 M1128.4,279.5 V296.7 L1136,303.0 H1200 M1152.5,281.5 V289.5 M1174,281.5 V288.5 M1128.4,397.5 V414.7 L1136,421.0 H1200 M1152.5,399.5 V407.5 M1174,399.5 V406.5 M1128.4,512 V529.2 L1136,535.5 H1200 M1152.5,514 V522 M1174,514 V521 M1081.7,150.7 L1074.7,157.7 V205 M1097.5,173.5 H1107.6 L1114.5,180.4 V212 M1081.7,268 L1074.7,275 V320 M1097.5,291 H1107.6 L1114.5,298 V328 M1070.7,95 V140 M1092,110 L1100,102 H1108 M1104,392 V440 L1110,446 M1101,505 V520 L1108,527 H1125 M1068,330 L1080,342 V356 M1068,485 L1078,495 V540 L1090,552" fill="none" stroke="#2a6cbc" stroke-width="3.2" stroke-linejoin="round"/>
<rect x="1112.3" y="100.3" width="4.4" height="6" fill="#b0b0b0"/><circle cx="1114.5" cy="99.8" r="4.6" fill="#cdcdcd" stroke="#8e8e8e" stroke-width="0.8"/><circle cx="1113.5" cy="98.8" r="1.8" fill="#eeeeee"/>
<rect x="1112.3" y="148.3" width="4.4" height="8" fill="#b0b0b0"/><circle cx="1114.5" cy="157.8" r="4.6" fill="#cdcdcd" stroke="#8e8e8e" stroke-width="0.8"/><circle cx="1113.5" cy="156.8" r="1.8" fill="#eeeeee"/>
<rect x="1128.8" y="100.3" width="4.4" height="6" fill="#b0b0b0"/><circle cx="1131" cy="99.8" r="4.6" fill="#cdcdcd" stroke="#8e8e8e" stroke-width="0.8"/><circle cx="1130" cy="98.8" r="1.8" fill="#eeeeee"/>
<rect x="1128.8" y="148.3" width="4.4" height="8" fill="#b0b0b0"/><circle cx="1131" cy="157.8" r="4.6" fill="#cdcdcd" stroke="#8e8e8e" stroke-width="0.8"/><circle cx="1130" cy="156.8" r="1.8" fill="#eeeeee"/>
<path d="M1107,114.3 H1105 V142.3 H1107" fill="none" stroke="#eef2f7" stroke-width="1"/>
<rect x="1109.3" y="105.3" width="30.7" height="43.5" fill="#2b2b2d"/>
<circle cx="1134" cy="113.3" r="1.9" fill="#0e0e0e"/>
<rect x="1144.8" y="93.7" width="16" height="30.6" fill="none" stroke="#eef2f7" stroke-width="1.2"/>
<rect x="1148" y="96.7" width="9.6" height="24.6" fill="#dddddd"/>
<rect x="1148" y="101.7" width="9.6" height="14.6" fill="#2a2a2a"/>
<rect x="1144.8" y="132.7" width="16" height="30.6" fill="none" stroke="#eef2f7" stroke-width="1.2"/>
<rect x="1148" y="135.7" width="9.6" height="24.6" fill="#dddddd"/>
<rect x="1148" y="140.7" width="9.6" height="14.6" fill="#2a2a2a"/>
<path d="M1170,95.8 H1166.8 V116.9 H1170 M1185,95.8 H1188.5 V116.9 H1185" fill="none" stroke="#eef2f7" stroke-width="1"/>
<rect x="1168" y="98" width="5" height="4" fill="#c0c0c0"/><rect x="1168" y="110" width="5" height="4" fill="#c0c0c0"/><rect x="1182" y="104" width="5" height="4" fill="#c0c0c0"/>
<rect x="1172" y="97" width="10.5" height="18" fill="#2a2a2a"/>
<rect x="1167.9" y="126.4" width="14" height="37.9" fill="none" stroke="#eef2f7" stroke-width="1.2"/>
<rect x="1170.5" y="129" width="9" height="32" fill="#cacaca"/>
<rect x="1171.5" y="136.9" width="7" height="20" rx="3" fill="#b43c1a"/><rect x="1171.5" y="150" width="7" height="2.2" fill="#222"/>
<path d="M1203,121 H1197 Q1188,121 1188,131 V160 Q1188,170 1197,170 H1203" fill="none" stroke="#eef2f7" stroke-width="3.4"/>
<rect x="1112.3" y="217.6" width="4.4" height="6" fill="#b0b0b0"/><circle cx="1114.5" cy="217.1" r="4.6" fill="#cdcdcd" stroke="#8e8e8e" stroke-width="0.8"/><circle cx="1113.5" cy="216.1" r="1.8" fill="#eeeeee"/>
<rect x="1112.3" y="265.6" width="4.4" height="8" fill="#b0b0b0"/><circle cx="1114.5" cy="275.1" r="4.6" fill="#cdcdcd" stroke="#8e8e8e" stroke-width="0.8"/><circle cx="1113.5" cy="274.1" r="1.8" fill="#eeeeee"/>
<rect x="1128.8" y="217.6" width="4.4" height="6" fill="#b0b0b0"/><circle cx="1131" cy="217.1" r="4.6" fill="#cdcdcd" stroke="#8e8e8e" stroke-width="0.8"/><circle cx="1130" cy="216.1" r="1.8" fill="#eeeeee"/>
<rect x="1128.8" y="265.6" width="4.4" height="8" fill="#b0b0b0"/><circle cx="1131" cy="275.1" r="4.6" fill="#cdcdcd" stroke="#8e8e8e" stroke-width="0.8"/><circle cx="1130" cy="274.1" r="1.8" fill="#eeeeee"/>
<path d="M1107,231.6 H1105 V259.6 H1107" fill="none" stroke="#eef2f7" stroke-width="1"/>
<rect x="1109.3" y="222.6" width="30.7" height="43.5" fill="#2b2b2d"/>
<circle cx="1134" cy="230.6" r="1.9" fill="#0e0e0e"/>
<rect x="1144.8" y="211.2" width="16" height="30.6" fill="none" stroke="#eef2f7" stroke-width="1.2"/>
<rect x="1148" y="214.2" width="9.6" height="24.6" fill="#dddddd"/>
<rect x="1148" y="219.2" width="9.6" height="14.6" fill="#2a2a2a"/>
<rect x="1144.8" y="250.2" width="16" height="30.6" fill="none" stroke="#eef2f7" stroke-width="1.2"/>
<rect x="1148" y="253.2" width="9.6" height="24.6" fill="#dddddd"/>
<rect x="1148" y="258.2" width="9.6" height="14.6" fill="#2a2a2a"/>
<path d="M1170,213.3 H1166.8 V234.4 H1170 M1185,213.3 H1188.5 V234.4 H1185" fill="none" stroke="#eef2f7" stroke-width="1"/>
<rect x="1168" y="215.5" width="5" height="4" fill="#c0c0c0"/><rect x="1168" y="227.5" width="5" height="4" fill="#c0c0c0"/><rect x="1182" y="221.5" width="5" height="4" fill="#c0c0c0"/>
<rect x="1172" y="214.5" width="10.5" height="18" fill="#2a2a2a"/>
<rect x="1167.9" y="243.9" width="14" height="37.9" fill="none" stroke="#eef2f7" stroke-width="1.2"/>
<rect x="1170.5" y="246.5" width="9" height="32" fill="#cacaca"/>
<rect x="1171.5" y="254.4" width="7" height="20" rx="3" fill="#b43c1a"/><rect x="1171.5" y="267.5" width="7" height="2.2" fill="#222"/>
<path d="M1203,238.5 H1197 Q1188,238.5 1188,248.5 V277.5 Q1188,287.5 1197,287.5 H1203" fill="none" stroke="#eef2f7" stroke-width="3.4"/>
<rect x="1112.3" y="334" width="4.4" height="6" fill="#b0b0b0"/><circle cx="1114.5" cy="333.5" r="4.6" fill="#cdcdcd" stroke="#8e8e8e" stroke-width="0.8"/><circle cx="1113.5" cy="332.5" r="1.8" fill="#eeeeee"/>
<rect x="1112.3" y="382" width="4.4" height="8" fill="#b0b0b0"/><circle cx="1114.5" cy="391.5" r="4.6" fill="#cdcdcd" stroke="#8e8e8e" stroke-width="0.8"/><circle cx="1113.5" cy="390.5" r="1.8" fill="#eeeeee"/>
<rect x="1128.8" y="334" width="4.4" height="6" fill="#b0b0b0"/><circle cx="1131" cy="333.5" r="4.6" fill="#cdcdcd" stroke="#8e8e8e" stroke-width="0.8"/><circle cx="1130" cy="332.5" r="1.8" fill="#eeeeee"/>
<rect x="1128.8" y="382" width="4.4" height="8" fill="#b0b0b0"/><circle cx="1131" cy="391.5" r="4.6" fill="#cdcdcd" stroke="#8e8e8e" stroke-width="0.8"/><circle cx="1130" cy="390.5" r="1.8" fill="#eeeeee"/>
<path d="M1107,348 H1105 V376 H1107" fill="none" stroke="#eef2f7" stroke-width="1"/>
<rect x="1109.3" y="339" width="30.7" height="43.5" fill="#2b2b2d"/>
<circle cx="1134" cy="347" r="1.9" fill="#0e0e0e"/>
<rect x="1144.8" y="326.2" width="16" height="30.6" fill="none" stroke="#eef2f7" stroke-width="1.2"/>
<rect x="1148" y="329.2" width="9.6" height="24.6" fill="#dddddd"/>
<rect x="1148" y="334.2" width="9.6" height="14.6" fill="#2a2a2a"/>
<rect x="1144.8" y="365.2" width="16" height="30.6" fill="none" stroke="#eef2f7" stroke-width="1.2"/>
<rect x="1148" y="368.2" width="9.6" height="24.6" fill="#dddddd"/>
<rect x="1148" y="373.2" width="9.6" height="14.6" fill="#2a2a2a"/>
<path d="M1170,328.3 H1166.8 V349.4 H1170 M1185,328.3 H1188.5 V349.4 H1185" fill="none" stroke="#eef2f7" stroke-width="1"/>
<rect x="1168" y="330.5" width="5" height="4" fill="#c0c0c0"/><rect x="1168" y="342.5" width="5" height="4" fill="#c0c0c0"/><rect x="1182" y="336.5" width="5" height="4" fill="#c0c0c0"/>
<rect x="1172" y="329.5" width="10.5" height="18" fill="#2a2a2a"/>
<rect x="1167.9" y="358.9" width="14" height="37.9" fill="none" stroke="#eef2f7" stroke-width="1.2"/>
<rect x="1170.5" y="361.5" width="9" height="32" fill="#cacaca"/>
<rect x="1171.5" y="369.4" width="7" height="20" rx="3" fill="#b43c1a"/><rect x="1171.5" y="382.5" width="7" height="2.2" fill="#222"/>
<path d="M1203,353.5 H1197 Q1188,353.5 1188,363.5 V392.5 Q1188,402.5 1197,402.5 H1203" fill="none" stroke="#eef2f7" stroke-width="3.4"/>
<rect x="1112.3" y="448" width="4.4" height="6" fill="#b0b0b0"/><circle cx="1114.5" cy="447.5" r="4.6" fill="#cdcdcd" stroke="#8e8e8e" stroke-width="0.8"/><circle cx="1113.5" cy="446.5" r="1.8" fill="#eeeeee"/>
<rect x="1112.3" y="496" width="4.4" height="8" fill="#b0b0b0"/><circle cx="1114.5" cy="505.5" r="4.6" fill="#cdcdcd" stroke="#8e8e8e" stroke-width="0.8"/><circle cx="1113.5" cy="504.5" r="1.8" fill="#eeeeee"/>
<rect x="1128.8" y="448" width="4.4" height="6" fill="#b0b0b0"/><circle cx="1131" cy="447.5" r="4.6" fill="#cdcdcd" stroke="#8e8e8e" stroke-width="0.8"/><circle cx="1130" cy="446.5" r="1.8" fill="#eeeeee"/>
<rect x="1128.8" y="496" width="4.4" height="8" fill="#b0b0b0"/><circle cx="1131" cy="505.5" r="4.6" fill="#cdcdcd" stroke="#8e8e8e" stroke-width="0.8"/><circle cx="1130" cy="504.5" r="1.8" fill="#eeeeee"/>
<path d="M1107,462 H1105 V490 H1107" fill="none" stroke="#eef2f7" stroke-width="1"/>
<rect x="1109.3" y="453" width="30.7" height="43.5" fill="#2b2b2d"/>
<circle cx="1134" cy="461" r="1.9" fill="#0e0e0e"/>
<rect x="1144.8" y="439.7" width="16" height="30.6" fill="none" stroke="#eef2f7" stroke-width="1.2"/>
<rect x="1148" y="442.7" width="9.6" height="24.6" fill="#dddddd"/>
<rect x="1148" y="447.7" width="9.6" height="14.6" fill="#2a2a2a"/>
<rect x="1144.8" y="478.7" width="16" height="30.6" fill="none" stroke="#eef2f7" stroke-width="1.2"/>
<rect x="1148" y="481.7" width="9.6" height="24.6" fill="#dddddd"/>
<rect x="1148" y="486.7" width="9.6" height="14.6" fill="#2a2a2a"/>
<path d="M1170,441.8 H1166.8 V462.9 H1170 M1185,441.8 H1188.5 V462.9 H1185" fill="none" stroke="#eef2f7" stroke-width="1"/>
<rect x="1168" y="444" width="5" height="4" fill="#c0c0c0"/><rect x="1168" y="456" width="5" height="4" fill="#c0c0c0"/><rect x="1182" y="450" width="5" height="4" fill="#c0c0c0"/>
<rect x="1172" y="443" width="10.5" height="18" fill="#2a2a2a"/>
<rect x="1167.9" y="472.4" width="14" height="37.9" fill="none" stroke="#eef2f7" stroke-width="1.2"/>
<rect x="1170.5" y="475" width="9" height="32" fill="#cacaca"/>
<rect x="1171.5" y="482.9" width="7" height="20" rx="3" fill="#b43c1a"/><rect x="1171.5" y="496" width="7" height="2.2" fill="#222"/>
<path d="M1203,467 H1197 Q1188,467 1188,477 V506 Q1188,516 1197,516 H1203" fill="none" stroke="#eef2f7" stroke-width="3.4"/>
<rect x="1083.7" y="122" width="12.8" height="31" rx="1.5" fill="none" stroke="#eef2f7" stroke-width="1.1"/>
<rect x="1086" y="124.5" width="8.2" height="26" fill="#d3d3d3"/><rect x="1086" y="132" width="8.2" height="11" fill="#e8d6cf"/>
<rect x="1083.7" y="168.5" width="12.8" height="31" rx="1.5" fill="none" stroke="#eef2f7" stroke-width="1.1"/>
<rect x="1086" y="171.0" width="8.2" height="26" fill="#d3d3d3"/><rect x="1086" y="178.5" width="8.2" height="11" fill="#e8d6cf"/>
<rect x="1083.7" y="217.5" width="12.8" height="31" rx="1.5" fill="none" stroke="#eef2f7" stroke-width="1.1"/>
<rect x="1086" y="220.0" width="8.2" height="26" fill="#d3d3d3"/><rect x="1086" y="227.5" width="8.2" height="11" fill="#e8d6cf"/>
<rect x="1083.7" y="268.3" width="12.8" height="31" rx="1.5" fill="none" stroke="#eef2f7" stroke-width="1.1"/>
<rect x="1086" y="270.8" width="8.2" height="26" fill="#d3d3d3"/><rect x="1086" y="278.3" width="8.2" height="11" fill="#e8d6cf"/>
<text transform="translate(1075,138.5) rotate(90)" font-family='"Liberation Serif", serif' font-weight="bold" font-size="9.5" fill="#eef2f7" text-anchor="middle" dominant-baseline="central" textLength="15" lengthAdjust="spacingAndGlyphs">IN1</text>
<text transform="translate(1075,184) rotate(90)" font-family='"Liberation Serif", serif' font-weight="bold" font-size="9.5" fill="#eef2f7" text-anchor="middle" dominant-baseline="central" textLength="15" lengthAdjust="spacingAndGlyphs">IN2</text>
<text transform="translate(1075,234.4) rotate(90)" font-family='"Liberation Serif", serif' font-weight="bold" font-size="9.5" fill="#eef2f7" text-anchor="middle" dominant-baseline="central" textLength="15" lengthAdjust="spacingAndGlyphs">IN3</text>
<text transform="translate(1075,283.5) rotate(90)" font-family='"Liberation Serif", serif' font-weight="bold" font-size="9.5" fill="#eef2f7" text-anchor="middle" dominant-baseline="central" textLength="15" lengthAdjust="spacingAndGlyphs">IN4</text>
<text transform="translate(1152.7,82) rotate(90)" font-family='"Liberation Serif", serif' font-weight="bold" font-size="9.5" fill="#eef2f7" text-anchor="middle" dominant-baseline="central" textLength="12" lengthAdjust="spacingAndGlyphs">R2</text>
<text transform="translate(1177,86) rotate(90)" font-family='"Liberation Serif", serif' font-weight="bold" font-size="9.5" fill="#eef2f7" text-anchor="middle" dominant-baseline="central" textLength="12" lengthAdjust="spacingAndGlyphs">Q1</text>
<text transform="translate(1153,184) rotate(90)" font-family='"Liberation Serif", serif' font-weight="bold" font-size="9.5" fill="#eef2f7" text-anchor="middle" dominant-baseline="central" textLength="12" lengthAdjust="spacingAndGlyphs">R1</text>
<text transform="translate(1176,181) rotate(90)" font-family='"Liberation Serif", serif' font-weight="bold" font-size="9.5" fill="#eef2f7" text-anchor="middle" dominant-baseline="central" textLength="12" lengthAdjust="spacingAndGlyphs">D1</text>
<text transform="translate(1153,197.5) rotate(90)" font-family='"Liberation Serif", serif' font-weight="bold" font-size="9.5" fill="#eef2f7" text-anchor="middle" dominant-baseline="central" textLength="12" lengthAdjust="spacingAndGlyphs">R3</text>
<text transform="translate(1176,202) rotate(90)" font-family='"Liberation Serif", serif' font-weight="bold" font-size="9.5" fill="#eef2f7" text-anchor="middle" dominant-baseline="central" textLength="12" lengthAdjust="spacingAndGlyphs">Q2</text>
<text transform="translate(1153,298) rotate(90)" font-family='"Liberation Serif", serif' font-weight="bold" font-size="9.5" fill="#eef2f7" text-anchor="middle" dominant-baseline="central" textLength="12" lengthAdjust="spacingAndGlyphs">R4</text>
<text transform="translate(1176,299) rotate(90)" font-family='"Liberation Serif", serif' font-weight="bold" font-size="9.5" fill="#eef2f7" text-anchor="middle" dominant-baseline="central" textLength="12" lengthAdjust="spacingAndGlyphs">D2</text>
<text transform="translate(1153,314) rotate(90)" font-family='"Liberation Serif", serif' font-weight="bold" font-size="9.5" fill="#eef2f7" text-anchor="middle" dominant-baseline="central" textLength="12" lengthAdjust="spacingAndGlyphs">R6</text>
<text transform="translate(1176,317) rotate(90)" font-family='"Liberation Serif", serif' font-weight="bold" font-size="9.5" fill="#eef2f7" text-anchor="middle" dominant-baseline="central" textLength="12" lengthAdjust="spacingAndGlyphs">Q3</text>
<text transform="translate(1153,415) rotate(90)" font-family='"Liberation Serif", serif' font-weight="bold" font-size="9.5" fill="#eef2f7" text-anchor="middle" dominant-baseline="central" textLength="12" lengthAdjust="spacingAndGlyphs">R5</text>
<text transform="translate(1176.7,415) rotate(90)" font-family='"Liberation Serif", serif' font-weight="bold" font-size="9.5" fill="#eef2f7" text-anchor="middle" dominant-baseline="central" textLength="12" lengthAdjust="spacingAndGlyphs">D3</text>
<text transform="translate(1153,433.6) rotate(90)" font-family='"Liberation Serif", serif' font-weight="bold" font-size="9.5" fill="#eef2f7" text-anchor="middle" dominant-baseline="central" textLength="12" lengthAdjust="spacingAndGlyphs">R7</text>
<text transform="translate(1176.7,434.4) rotate(90)" font-family='"Liberation Serif", serif' font-weight="bold" font-size="9.5" fill="#eef2f7" text-anchor="middle" dominant-baseline="central" textLength="12" lengthAdjust="spacingAndGlyphs">Q4</text>
<text transform="translate(1153,525.5) rotate(90)" font-family='"Liberation Serif", serif' font-weight="bold" font-size="9.5" fill="#eef2f7" text-anchor="middle" dominant-baseline="central" textLength="12" lengthAdjust="spacingAndGlyphs">R8</text>
<text transform="translate(1176.7,536.5) rotate(90)" font-family='"Liberation Serif", serif' font-weight="bold" font-size="9.5" fill="#eef2f7" text-anchor="middle" dominant-baseline="central" textLength="12" lengthAdjust="spacingAndGlyphs">D4</text>
<rect x="1200" y="191" width="131" height="6" fill="#1c2531"/>
<rect x="1200.5" y="86.8" width="130.5" height="104.2" fill="#3b87d4"/>
<rect x="1200.5" y="189" width="130.5" height="2" fill="#5a9ad8"/>
<text transform="translate(1266.5,95.4) rotate(180)" font-weight="normal" font-size="14.2" fill="#eef3fa" stroke="#eef3fa" stroke-width="0.35" text-anchor="middle" textLength="111" lengthAdjust="spacingAndGlyphs">SRD-5VDC-SL-C</text>
<text transform="translate(1314.0,109.6) rotate(180)" font-weight="normal" font-size="11" fill="#eef3fa" stroke="#eef3fa" stroke-width="0.35" text-anchor="middle" textLength="14.900000000000091" lengthAdjust="spacingAndGlyphs">10A</text>
<text transform="translate(1281.9,109.6) rotate(180)" font-weight="normal" font-size="11" fill="#eef3fa" stroke="#eef3fa" stroke-width="0.35" text-anchor="middle" textLength="29.799999999999955" lengthAdjust="spacingAndGlyphs">30VDC</text>
<text transform="translate(1250.3,109.6) rotate(180)" font-weight="normal" font-size="11" fill="#eef3fa" stroke="#eef3fa" stroke-width="0.35" text-anchor="middle" textLength="15.799999999999955" lengthAdjust="spacingAndGlyphs">10A</text>
<text transform="translate(1221.3,109.6) rotate(180)" font-weight="normal" font-size="11" fill="#eef3fa" stroke="#eef3fa" stroke-width="0.35" text-anchor="middle" textLength="29.799999999999955" lengthAdjust="spacingAndGlyphs">28VDC</text>
<text transform="translate(1314.0,120.6) rotate(180)" font-weight="normal" font-size="11" fill="#eef3fa" stroke="#eef3fa" stroke-width="0.35" text-anchor="middle" textLength="14.900000000000091" lengthAdjust="spacingAndGlyphs">10A</text>
<text transform="translate(1284.5,120.6) rotate(180)" font-weight="normal" font-size="11" fill="#eef3fa" stroke="#eef3fa" stroke-width="0.35" text-anchor="middle" textLength="35" lengthAdjust="spacingAndGlyphs">250VAC</text>
<text transform="translate(1250.8,120.6) rotate(180)" font-weight="normal" font-size="11" fill="#eef3fa" stroke="#eef3fa" stroke-width="0.35" text-anchor="middle" textLength="14.700000000000045" lengthAdjust="spacingAndGlyphs">10A</text>
<text transform="translate(1223.2,120.6) rotate(180)" font-weight="normal" font-size="11" fill="#eef3fa" stroke="#eef3fa" stroke-width="0.35" text-anchor="middle" textLength="33.59999999999991" lengthAdjust="spacingAndGlyphs">125VAC</text>
<circle cx="1261.7" cy="136.8" r="6.6" fill="#1f70c6"/>
<circle cx="1212.5" cy="179.2" r="6.6" fill="#1f70c6"/>
<ellipse cx="1310.3" cy="149.8" rx="13.4" ry="7.2" fill="none" stroke="#eef3fa" stroke-width="1.4"/>
<text transform="translate(1310.3,146.1) rotate(180)" font-weight="normal" font-size="8.5" fill="#eef3fa" stroke="#eef3fa" stroke-width="0.35" text-anchor="middle" textLength="17" lengthAdjust="spacingAndGlyphs">CQC</text>
<polygon points="1277.5,143.3 1292.4,143.3 1285,158.3" fill="none" stroke="#eef3fa" stroke-width="1.7"/>
<text transform="translate(1231.5,143.8) rotate(180)" font-size="19" font-weight="bold" font-style="italic" fill="#eef3fa" stroke="#eef3fa" stroke-width="1.2" text-anchor="middle" textLength="23" lengthAdjust="spacingAndGlyphs">UL</text>
<text transform="translate(1213.0,142.8) rotate(180)" font-weight="normal" font-size="8.5" fill="#eef3fa" stroke="#eef3fa" stroke-width="0.35" text-anchor="middle" textLength="9" lengthAdjust="spacingAndGlyphs">us</text>
<text transform="translate(1245.0,144.3) rotate(180)" font-weight="normal" font-size="8.5" fill="#eef3fa" stroke="#eef3fa" stroke-width="0.35" text-anchor="middle" textLength="4" lengthAdjust="spacingAndGlyphs">c</text>
<text transform="translate(1214.5,154.3) rotate(180)" font-weight="normal" font-size="11" fill="#eef3fa" stroke="#eef3fa" stroke-width="0.35" text-anchor="middle" textLength="7" lengthAdjust="spacingAndGlyphs">8.</text>
<polygon points="1278,167.8 1312,167.8 1309,171.8 1275,171.8" fill="#eef3fa"/>
<polygon points="1276,174.0 1310,174.0 1307,178.0 1273,178.0" fill="#eef3fa"/>
<polygon points="1274,180.20000000000002 1308,180.20000000000002 1305,184.20000000000002 1271,184.20000000000002" fill="#eef3fa"/>
<circle cx="1274" cy="167.3" r="4" fill="none" stroke="#eef3fa" stroke-width="0.9"/>
<text transform="translate(1249.5,174.3) rotate(180)" font-family='"Liberation Serif", serif' font-weight="bold" font-size="9" fill="#eef3fa" stroke="#eef3fa" stroke-width="0.35" text-anchor="middle" textLength="38" lengthAdjust="spacingAndGlyphs">SONGLE</text>
<rect x="1200" y="307.3" width="131" height="6" fill="#1c2531"/>
<rect x="1200.5" y="203.8" width="130.5" height="103.5" fill="#3b87d4"/>
<rect x="1200.5" y="305.3" width="130.5" height="2" fill="#5a9ad8"/>
<text transform="translate(1266.5,215.6) rotate(180)" font-weight="normal" font-size="14.2" fill="#eef3fa" stroke="#eef3fa" stroke-width="0.35" text-anchor="middle" textLength="111" lengthAdjust="spacingAndGlyphs">SRD-5VDC-SL-C</text>
<text transform="translate(1314.0,229.8) rotate(180)" font-weight="normal" font-size="11" fill="#eef3fa" stroke="#eef3fa" stroke-width="0.35" text-anchor="middle" textLength="14.900000000000091" lengthAdjust="spacingAndGlyphs">10A</text>
<text transform="translate(1281.9,229.8) rotate(180)" font-weight="normal" font-size="11" fill="#eef3fa" stroke="#eef3fa" stroke-width="0.35" text-anchor="middle" textLength="29.799999999999955" lengthAdjust="spacingAndGlyphs">30VDC</text>
<text transform="translate(1250.3,229.8) rotate(180)" font-weight="normal" font-size="11" fill="#eef3fa" stroke="#eef3fa" stroke-width="0.35" text-anchor="middle" textLength="15.799999999999955" lengthAdjust="spacingAndGlyphs">10A</text>
<text transform="translate(1221.3,229.8) rotate(180)" font-weight="normal" font-size="11" fill="#eef3fa" stroke="#eef3fa" stroke-width="0.35" text-anchor="middle" textLength="29.799999999999955" lengthAdjust="spacingAndGlyphs">28VDC</text>
<text transform="translate(1314.0,240.8) rotate(180)" font-weight="normal" font-size="11" fill="#eef3fa" stroke="#eef3fa" stroke-width="0.35" text-anchor="middle" textLength="14.900000000000091" lengthAdjust="spacingAndGlyphs">10A</text>
<text transform="translate(1284.5,240.8) rotate(180)" font-weight="normal" font-size="11" fill="#eef3fa" stroke="#eef3fa" stroke-width="0.35" text-anchor="middle" textLength="35" lengthAdjust="spacingAndGlyphs">250VAC</text>
<text transform="translate(1250.8,240.8) rotate(180)" font-weight="normal" font-size="11" fill="#eef3fa" stroke="#eef3fa" stroke-width="0.35" text-anchor="middle" textLength="14.700000000000045" lengthAdjust="spacingAndGlyphs">10A</text>
<text transform="translate(1223.2,240.8) rotate(180)" font-weight="normal" font-size="11" fill="#eef3fa" stroke="#eef3fa" stroke-width="0.35" text-anchor="middle" textLength="33.59999999999991" lengthAdjust="spacingAndGlyphs">125VAC</text>
<circle cx="1261.7" cy="253.8" r="6.6" fill="#1f70c6"/>
<circle cx="1212.5" cy="296.20000000000005" r="6.6" fill="#1f70c6"/>
<ellipse cx="1310.3" cy="266.8" rx="13.4" ry="7.2" fill="none" stroke="#eef3fa" stroke-width="1.4"/>
<text transform="translate(1310.3,263.1) rotate(180)" font-weight="normal" font-size="8.5" fill="#eef3fa" stroke="#eef3fa" stroke-width="0.35" text-anchor="middle" textLength="17" lengthAdjust="spacingAndGlyphs">CQC</text>
<polygon points="1277.5,260.3 1292.4,260.3 1285,275.3" fill="none" stroke="#eef3fa" stroke-width="1.7"/>
<text transform="translate(1231.5,260.8) rotate(180)" font-size="19" font-weight="bold" font-style="italic" fill="#eef3fa" stroke="#eef3fa" stroke-width="1.2" text-anchor="middle" textLength="23" lengthAdjust="spacingAndGlyphs">UL</text>
<text transform="translate(1213.0,259.8) rotate(180)" font-weight="normal" font-size="8.5" fill="#eef3fa" stroke="#eef3fa" stroke-width="0.35" text-anchor="middle" textLength="9" lengthAdjust="spacingAndGlyphs">us</text>
<text transform="translate(1245.0,261.3) rotate(180)" font-weight="normal" font-size="8.5" fill="#eef3fa" stroke="#eef3fa" stroke-width="0.35" text-anchor="middle" textLength="4" lengthAdjust="spacingAndGlyphs">c</text>
<text transform="translate(1214.5,271.3) rotate(180)" font-weight="normal" font-size="11" fill="#eef3fa" stroke="#eef3fa" stroke-width="0.35" text-anchor="middle" textLength="7" lengthAdjust="spacingAndGlyphs">8.</text>
<polygon points="1278,284.8 1312,284.8 1309,288.8 1275,288.8" fill="#eef3fa"/>
<polygon points="1276,291.0 1310,291.0 1307,295.0 1273,295.0" fill="#eef3fa"/>
<polygon points="1274,297.2 1308,297.2 1305,301.2 1271,301.2" fill="#eef3fa"/>
<circle cx="1274" cy="284.3" r="4" fill="none" stroke="#eef3fa" stroke-width="0.9"/>
<text transform="translate(1249.5,291.3) rotate(180)" font-family='"Liberation Serif", serif' font-weight="bold" font-size="9" fill="#eef3fa" stroke="#eef3fa" stroke-width="0.35" text-anchor="middle" textLength="38" lengthAdjust="spacingAndGlyphs">SONGLE</text>
<rect x="1200" y="426" width="131" height="6" fill="#1c2531"/>
<rect x="1200.5" y="323.6" width="130.5" height="102.39999999999998" fill="#3b87d4"/>
<rect x="1200.5" y="424" width="130.5" height="2" fill="#5a9ad8"/>
<text transform="translate(1266.5,330.7) rotate(180)" font-weight="normal" font-size="14.2" fill="#eef3fa" stroke="#eef3fa" stroke-width="0.35" text-anchor="middle" textLength="111" lengthAdjust="spacingAndGlyphs">SRD-5VDC-SL-C</text>
<text transform="translate(1314.0,344.9) rotate(180)" font-weight="normal" font-size="11" fill="#eef3fa" stroke="#eef3fa" stroke-width="0.35" text-anchor="middle" textLength="14.900000000000091" lengthAdjust="spacingAndGlyphs">10A</text>
<text transform="translate(1281.9,344.9) rotate(180)" font-weight="normal" font-size="11" fill="#eef3fa" stroke="#eef3fa" stroke-width="0.35" text-anchor="middle" textLength="29.799999999999955" lengthAdjust="spacingAndGlyphs">30VDC</text>
<text transform="translate(1250.3,344.9) rotate(180)" font-weight="normal" font-size="11" fill="#eef3fa" stroke="#eef3fa" stroke-width="0.35" text-anchor="middle" textLength="15.799999999999955" lengthAdjust="spacingAndGlyphs">10A</text>
<text transform="translate(1221.3,344.9) rotate(180)" font-weight="normal" font-size="11" fill="#eef3fa" stroke="#eef3fa" stroke-width="0.35" text-anchor="middle" textLength="29.799999999999955" lengthAdjust="spacingAndGlyphs">28VDC</text>
<text transform="translate(1314.0,355.9) rotate(180)" font-weight="normal" font-size="11" fill="#eef3fa" stroke="#eef3fa" stroke-width="0.35" text-anchor="middle" textLength="14.900000000000091" lengthAdjust="spacingAndGlyphs">10A</text>
<text transform="translate(1284.5,355.9) rotate(180)" font-weight="normal" font-size="11" fill="#eef3fa" stroke="#eef3fa" stroke-width="0.35" text-anchor="middle" textLength="35" lengthAdjust="spacingAndGlyphs">250VAC</text>
<text transform="translate(1250.8,355.9) rotate(180)" font-weight="normal" font-size="11" fill="#eef3fa" stroke="#eef3fa" stroke-width="0.35" text-anchor="middle" textLength="14.700000000000045" lengthAdjust="spacingAndGlyphs">10A</text>
<text transform="translate(1223.2,355.9) rotate(180)" font-weight="normal" font-size="11" fill="#eef3fa" stroke="#eef3fa" stroke-width="0.35" text-anchor="middle" textLength="33.59999999999991" lengthAdjust="spacingAndGlyphs">125VAC</text>
<circle cx="1261.7" cy="373.6" r="6.6" fill="#1f70c6"/>
<circle cx="1212.5" cy="416.0" r="6.6" fill="#1f70c6"/>
<ellipse cx="1310.3" cy="386.6" rx="13.4" ry="7.2" fill="none" stroke="#eef3fa" stroke-width="1.4"/>
<text transform="translate(1310.3,382.9) rotate(180)" font-weight="normal" font-size="8.5" fill="#eef3fa" stroke="#eef3fa" stroke-width="0.35" text-anchor="middle" textLength="17" lengthAdjust="spacingAndGlyphs">CQC</text>
<polygon points="1277.5,380.1 1292.4,380.1 1285,395.1" fill="none" stroke="#eef3fa" stroke-width="1.7"/>
<text transform="translate(1231.5,380.6) rotate(180)" font-size="19" font-weight="bold" font-style="italic" fill="#eef3fa" stroke="#eef3fa" stroke-width="1.2" text-anchor="middle" textLength="23" lengthAdjust="spacingAndGlyphs">UL</text>
<text transform="translate(1213.0,379.6) rotate(180)" font-weight="normal" font-size="8.5" fill="#eef3fa" stroke="#eef3fa" stroke-width="0.35" text-anchor="middle" textLength="9" lengthAdjust="spacingAndGlyphs">us</text>
<text transform="translate(1245.0,381.1) rotate(180)" font-weight="normal" font-size="8.5" fill="#eef3fa" stroke="#eef3fa" stroke-width="0.35" text-anchor="middle" textLength="4" lengthAdjust="spacingAndGlyphs">c</text>
<text transform="translate(1214.5,391.1) rotate(180)" font-weight="normal" font-size="11" fill="#eef3fa" stroke="#eef3fa" stroke-width="0.35" text-anchor="middle" textLength="7" lengthAdjust="spacingAndGlyphs">8.</text>
<polygon points="1278,404.6 1312,404.6 1309,408.6 1275,408.6" fill="#eef3fa"/>
<polygon points="1276,410.8 1310,410.8 1307,414.8 1273,414.8" fill="#eef3fa"/>
<polygon points="1274,417.0 1308,417.0 1305,421.0 1271,421.0" fill="#eef3fa"/>
<circle cx="1274" cy="404.1" r="4" fill="none" stroke="#eef3fa" stroke-width="0.9"/>
<text transform="translate(1249.5,411.1) rotate(180)" font-family='"Liberation Serif", serif' font-weight="bold" font-size="9" fill="#eef3fa" stroke="#eef3fa" stroke-width="0.35" text-anchor="middle" textLength="38" lengthAdjust="spacingAndGlyphs">SONGLE</text>
<rect x="1201" y="546.3" width="130" height="2.5" fill="#d8e4f0"/>
<rect x="1200.5" y="441.6" width="130.5" height="104.69999999999993" fill="#3b87d4"/>
<rect x="1200.5" y="544.3" width="130.5" height="2" fill="#5a9ad8"/>
<text transform="translate(1266.5,450.2) rotate(180)" font-weight="normal" font-size="14.2" fill="#eef3fa" stroke="#eef3fa" stroke-width="0.35" text-anchor="middle" textLength="111" lengthAdjust="spacingAndGlyphs">SRD-5VDC-SL-C</text>
<text transform="translate(1314.0,464.4) rotate(180)" font-weight="normal" font-size="11" fill="#eef3fa" stroke="#eef3fa" stroke-width="0.35" text-anchor="middle" textLength="14.900000000000091" lengthAdjust="spacingAndGlyphs">10A</text>
<text transform="translate(1281.9,464.4) rotate(180)" font-weight="normal" font-size="11" fill="#eef3fa" stroke="#eef3fa" stroke-width="0.35" text-anchor="middle" textLength="29.799999999999955" lengthAdjust="spacingAndGlyphs">30VDC</text>
<text transform="translate(1250.3,464.4) rotate(180)" font-weight="normal" font-size="11" fill="#eef3fa" stroke="#eef3fa" stroke-width="0.35" text-anchor="middle" textLength="15.799999999999955" lengthAdjust="spacingAndGlyphs">10A</text>
<text transform="translate(1221.3,464.4) rotate(180)" font-weight="normal" font-size="11" fill="#eef3fa" stroke="#eef3fa" stroke-width="0.35" text-anchor="middle" textLength="29.799999999999955" lengthAdjust="spacingAndGlyphs">28VDC</text>
<text transform="translate(1314.0,475.4) rotate(180)" font-weight="normal" font-size="11" fill="#eef3fa" stroke="#eef3fa" stroke-width="0.35" text-anchor="middle" textLength="14.900000000000091" lengthAdjust="spacingAndGlyphs">10A</text>
<text transform="translate(1284.5,475.4) rotate(180)" font-weight="normal" font-size="11" fill="#eef3fa" stroke="#eef3fa" stroke-width="0.35" text-anchor="middle" textLength="35" lengthAdjust="spacingAndGlyphs">250VAC</text>
<text transform="translate(1250.8,475.4) rotate(180)" font-weight="normal" font-size="11" fill="#eef3fa" stroke="#eef3fa" stroke-width="0.35" text-anchor="middle" textLength="14.700000000000045" lengthAdjust="spacingAndGlyphs">10A</text>
<text transform="translate(1223.2,475.4) rotate(180)" font-weight="normal" font-size="11" fill="#eef3fa" stroke="#eef3fa" stroke-width="0.35" text-anchor="middle" textLength="33.59999999999991" lengthAdjust="spacingAndGlyphs">125VAC</text>
<circle cx="1261.7" cy="491.6" r="6.6" fill="#1f70c6"/>
<circle cx="1212.5" cy="534.0" r="6.6" fill="#1f70c6"/>
<ellipse cx="1310.3" cy="504.6" rx="13.4" ry="7.2" fill="none" stroke="#eef3fa" stroke-width="1.4"/>
<text transform="translate(1310.3,500.9) rotate(180)" font-weight="normal" font-size="8.5" fill="#eef3fa" stroke="#eef3fa" stroke-width="0.35" text-anchor="middle" textLength="17" lengthAdjust="spacingAndGlyphs">CQC</text>
<polygon points="1277.5,498.1 1292.4,498.1 1285,513.1" fill="none" stroke="#eef3fa" stroke-width="1.7"/>
<text transform="translate(1231.5,498.6) rotate(180)" font-size="19" font-weight="bold" font-style="italic" fill="#eef3fa" stroke="#eef3fa" stroke-width="1.2" text-anchor="middle" textLength="23" lengthAdjust="spacingAndGlyphs">UL</text>
<text transform="translate(1213.0,497.6) rotate(180)" font-weight="normal" font-size="8.5" fill="#eef3fa" stroke="#eef3fa" stroke-width="0.35" text-anchor="middle" textLength="9" lengthAdjust="spacingAndGlyphs">us</text>
<text transform="translate(1245.0,499.1) rotate(180)" font-weight="normal" font-size="8.5" fill="#eef3fa" stroke="#eef3fa" stroke-width="0.35" text-anchor="middle" textLength="4" lengthAdjust="spacingAndGlyphs">c</text>
<text transform="translate(1214.5,509.1) rotate(180)" font-weight="normal" font-size="11" fill="#eef3fa" stroke="#eef3fa" stroke-width="0.35" text-anchor="middle" textLength="7" lengthAdjust="spacingAndGlyphs">8.</text>
<polygon points="1278,522.6 1312,522.6 1309,526.6 1275,526.6" fill="#eef3fa"/>
<polygon points="1276,528.8000000000001 1310,528.8000000000001 1307,532.8000000000001 1273,532.8000000000001" fill="#eef3fa"/>
<polygon points="1274,535.0 1308,535.0 1305,539.0 1271,539.0" fill="#eef3fa"/>
<circle cx="1274" cy="522.1" r="4" fill="none" stroke="#eef3fa" stroke-width="0.9"/>
<text transform="translate(1249.5,529.1) rotate(180)" font-family='"Liberation Serif", serif' font-weight="bold" font-size="9" fill="#eef3fa" stroke="#eef3fa" stroke-width="0.35" text-anchor="middle" textLength="38" lengthAdjust="spacingAndGlyphs">SONGLE</text>
<rect x="1332.5" y="98.3" width="3" height="209.59999999999997" fill="#173a63"/>
<rect x="1334.5" y="98.3" width="12.5" height="209.59999999999997" fill="#2d6db6"/>
<rect x="1347" y="98.3" width="33" height="209.59999999999997" fill="#4391da"/>
<rect x="1380" y="98.3" width="7.7" height="209.59999999999997" fill="#87a3c5"/>
<circle cx="1343.5" cy="114.5" r="3" fill="#183d68"/>
<circle cx="1362.5" cy="114.5" r="11.8" fill="#1d3d66"/><circle cx="1362.5" cy="114.5" r="9.4" fill="#b8b8b8"/><circle cx="1362.0" cy="114.0" r="6.5" fill="#d5d5d5"/>
<rect x="1348.7" y="129.8" width="28" height="4.5" fill="#1a2f55"/>
<circle cx="1343.5" cy="149.5" r="3" fill="#183d68"/>
<circle cx="1362.5" cy="149.5" r="11.8" fill="#1d3d66"/><circle cx="1362.5" cy="149.5" r="9.4" fill="#b8b8b8"/><circle cx="1362.0" cy="149.0" r="6.5" fill="#d5d5d5"/>
<rect x="1348.7" y="164.6" width="28" height="4.5" fill="#1a2f55"/>
<circle cx="1343.5" cy="184" r="3" fill="#183d68"/>
<circle cx="1362.5" cy="184" r="11.8" fill="#1d3d66"/><circle cx="1362.5" cy="184" r="9.4" fill="#b8b8b8"/><circle cx="1362.0" cy="183.5" r="6.5" fill="#d5d5d5"/>
<rect x="1348.7" y="199.1" width="28" height="4.5" fill="#1a2f55"/>
<circle cx="1343.5" cy="218.5" r="3" fill="#183d68"/>
<circle cx="1362.5" cy="218.5" r="11.8" fill="#1d3d66"/><circle cx="1362.5" cy="218.5" r="9.4" fill="#b8b8b8"/><circle cx="1362.0" cy="218.0" r="6.5" fill="#d5d5d5"/>
<rect x="1348.7" y="233.6" width="28" height="4.5" fill="#1a2f55"/>
<circle cx="1343.5" cy="253" r="3" fill="#183d68"/>
<circle cx="1362.5" cy="253" r="11.8" fill="#1d3d66"/><circle cx="1362.5" cy="253" r="9.4" fill="#b8b8b8"/><circle cx="1362.0" cy="252.5" r="6.5" fill="#d5d5d5"/>
<rect x="1348.7" y="267.7" width="28" height="4.5" fill="#1a2f55"/>
<circle cx="1343.5" cy="286.8" r="3" fill="#183d68"/>
<circle cx="1362.5" cy="286.8" r="11.8" fill="#1d3d66"/><circle cx="1362.5" cy="286.8" r="9.4" fill="#b8b8b8"/><circle cx="1362.0" cy="286.3" r="6.5" fill="#d5d5d5"/>
<rect x="1334.5" y="326.3" width="3" height="208.2" fill="#173a63"/>
<rect x="1336.5" y="326.3" width="13.200000000000045" height="208.2" fill="#2d6db6"/>
<rect x="1349.7" y="326.3" width="35.299999999999955" height="208.2" fill="#4391da"/>
<rect x="1385" y="326.3" width="5.5" height="208.2" fill="#87a3c5"/>
<circle cx="1345.5" cy="343.2" r="3" fill="#183d68"/>
<circle cx="1366.4" cy="343.2" r="11.8" fill="#1d3d66"/><circle cx="1366.4" cy="343.2" r="9.4" fill="#b8b8b8"/><circle cx="1365.9" cy="342.7" r="6.5" fill="#d5d5d5"/>
<rect x="1352.6000000000001" y="357.9" width="28" height="4.5" fill="#1a2f55"/>
<circle cx="1345.5" cy="377" r="3" fill="#183d68"/>
<circle cx="1366.4" cy="377" r="11.8" fill="#1d3d66"/><circle cx="1366.4" cy="377" r="9.4" fill="#b8b8b8"/><circle cx="1365.9" cy="376.5" r="6.5" fill="#d5d5d5"/>
<rect x="1352.6000000000001" y="392.1" width="28" height="4.5" fill="#1a2f55"/>
<circle cx="1345.5" cy="411.5" r="3" fill="#183d68"/>
<circle cx="1366.4" cy="411.5" r="11.8" fill="#1d3d66"/><circle cx="1366.4" cy="411.5" r="9.4" fill="#b8b8b8"/><circle cx="1365.9" cy="411.0" r="6.5" fill="#d5d5d5"/>
<rect x="1352.6000000000001" y="427.1" width="28" height="4.5" fill="#1a2f55"/>
<circle cx="1345.5" cy="447" r="3" fill="#183d68"/>
<circle cx="1366.4" cy="447" r="11.8" fill="#1d3d66"/><circle cx="1366.4" cy="447" r="9.4" fill="#b8b8b8"/><circle cx="1365.9" cy="446.5" r="6.5" fill="#d5d5d5"/>
<rect x="1352.6000000000001" y="462.1" width="28" height="4.5" fill="#1a2f55"/>
<circle cx="1345.5" cy="481.5" r="3" fill="#183d68"/>
<circle cx="1366.4" cy="481.5" r="11.8" fill="#1d3d66"/><circle cx="1366.4" cy="481.5" r="9.4" fill="#b8b8b8"/><circle cx="1365.9" cy="481.0" r="6.5" fill="#d5d5d5"/>
<rect x="1352.6000000000001" y="496.7" width="28" height="4.5" fill="#1a2f55"/>
<circle cx="1345.5" cy="516.2" r="3" fill="#183d68"/>
<circle cx="1366.4" cy="516.2" r="11.8" fill="#1d3d66"/><circle cx="1366.4" cy="516.2" r="9.4" fill="#b8b8b8"/><circle cx="1365.9" cy="515.7" r="6.5" fill="#d5d5d5"/>
<path d="M1389,123 H1398 V144 M1389,189 H1398 V168" fill="none" stroke="#eef2f7" stroke-width="1.1"/>
<text transform="translate(1396,156) rotate(90)" font-family='"Liberation Serif", serif' font-weight="bold" font-size="9.5" fill="#eef2f7" text-anchor="middle" dominant-baseline="central" textLength="11" lengthAdjust="spacingAndGlyphs">K1</text>
<path d="M1389,224 H1398 V245 M1389,290 H1398 V269" fill="none" stroke="#eef2f7" stroke-width="1.1"/>
<text transform="translate(1396,257) rotate(90)" font-family='"Liberation Serif", serif' font-weight="bold" font-size="9.5" fill="#eef2f7" text-anchor="middle" dominant-baseline="central" textLength="11" lengthAdjust="spacingAndGlyphs">K2</text>
<path d="M1389,352 H1398 V373 M1389,418 H1398 V397" fill="none" stroke="#eef2f7" stroke-width="1.1"/>
<text transform="translate(1396,385) rotate(90)" font-family='"Liberation Serif", serif' font-weight="bold" font-size="9.5" fill="#eef2f7" text-anchor="middle" dominant-baseline="central" textLength="11" lengthAdjust="spacingAndGlyphs">K3</text>
<path d="M1389,451 H1398 V472 M1389,517 H1398 V496" fill="none" stroke="#eef2f7" stroke-width="1.1"/>
<text transform="translate(1396,484) rotate(90)" font-family='"Liberation Serif", serif' font-weight="bold" font-size="9.5" fill="#eef2f7" text-anchor="middle" dominant-baseline="central" textLength="11" lengthAdjust="spacingAndGlyphs">K4</text>
<text transform="translate(1265,71) rotate(180)" font-family='"Liberation Serif", serif' font-size="20" fill="#eef2f7" stroke="#eef2f7" stroke-width="0.4" text-anchor="middle" textLength="160" lengthAdjust="spacingAndGlyphs">4 Relay Module</text>
<circle cx="1086.3" cy="83.8" r="16.6" fill="none" stroke="#eef2f7" stroke-width="1.5"/><circle cx="1086.3" cy="83.8" r="10.8" fill="#fff"/>
<circle cx="1382.8" cy="83.4" r="16.6" fill="none" stroke="#eef2f7" stroke-width="1.5"/><circle cx="1382.8" cy="83.4" r="10.8" fill="#fff"/>
<circle cx="1086.3" cy="555.4" r="16.6" fill="none" stroke="#eef2f7" stroke-width="1.5"/><circle cx="1086.3" cy="555.4" r="10.8" fill="#fff"/>
<circle cx="1386" cy="554" r="16.6" fill="none" stroke="#eef2f7" stroke-width="1.5"/><circle cx="1386" cy="554" r="10.8" fill="#fff"/>
<rect x="1083.2" y="361" width="17.8" height="107.5" fill="#2e2e2e" stroke="#a9bdd2" stroke-width="0.8"/>
<rect x="1085" y="361.5" width="14.2" height="16" fill="#3a3a3a" stroke="#222" stroke-width="0.8"/><rect x="1089.5" y="366.5" width="5" height="5" fill="#9a9a9a"/>
<rect x="1085" y="379.4" width="14.2" height="16" fill="#3a3a3a" stroke="#222" stroke-width="0.8"/><rect x="1089.5" y="384.4" width="5" height="5" fill="#9a9a9a"/>
<rect x="1085" y="397.3" width="14.2" height="16" fill="#3a3a3a" stroke="#222" stroke-width="0.8"/><rect x="1089.5" y="402.3" width="5" height="5" fill="#9a9a9a"/>
<rect x="1085" y="415.2" width="14.2" height="16" fill="#3a3a3a" stroke="#222" stroke-width="0.8"/><rect x="1089.5" y="420.2" width="5" height="5" fill="#9a9a9a"/>
<rect x="1085" y="433.1" width="14.2" height="16" fill="#3a3a3a" stroke="#222" stroke-width="0.8"/><rect x="1089.5" y="438.1" width="5" height="5" fill="#9a9a9a"/>
<rect x="1085" y="451.0" width="14.2" height="16" fill="#3a3a3a" stroke="#222" stroke-width="0.8"/><rect x="1089.5" y="456.0" width="5" height="5" fill="#9a9a9a"/>
<text transform="translate(1075.5,367) rotate(90)" font-family='"Liberation Serif", serif' font-weight="bold" font-size="9.5" fill="#eef2f7" text-anchor="middle" dominant-baseline="central" textLength="15.5" lengthAdjust="spacingAndGlyphs">GND</text>
<text transform="translate(1075.5,387.2) rotate(90)" font-family='"Liberation Serif", serif' font-weight="bold" font-size="9.5" fill="#eef2f7" text-anchor="middle" dominant-baseline="central" textLength="15.5" lengthAdjust="spacingAndGlyphs">IN1</text>
<text transform="translate(1075.5,405.7) rotate(90)" font-family='"Liberation Serif", serif' font-weight="bold" font-size="9.5" fill="#eef2f7" text-anchor="middle" dominant-baseline="central" textLength="15.5" lengthAdjust="spacingAndGlyphs">IN2</text>
<text transform="translate(1075.5,425.2) rotate(90)" font-family='"Liberation Serif", serif' font-weight="bold" font-size="9.5" fill="#eef2f7" text-anchor="middle" dominant-baseline="central" textLength="15.5" lengthAdjust="spacingAndGlyphs">IN3</text>
<text transform="translate(1075.5,443.5) rotate(90)" font-family='"Liberation Serif", serif' font-weight="bold" font-size="9.5" fill="#eef2f7" text-anchor="middle" dominant-baseline="central" textLength="15.5" lengthAdjust="spacingAndGlyphs">IN4</text>
<text transform="translate(1075.5,463) rotate(90)" font-family='"Liberation Serif", serif' font-weight="bold" font-size="9.5" fill="#eef2f7" text-anchor="middle" dominant-baseline="central" textLength="15.5" lengthAdjust="spacingAndGlyphs">VCC</text>
<rect x="1127.8" y="532.3" width="34.7" height="18.6" fill="#ebcb8f"/><rect x="1135" y="538" width="19" height="7" fill="#2a2a2a"/><rect x="1132" y="539.5" width="4" height="4" fill="#c0c0c0"/><rect x="1153" y="539.5" width="4" height="4" fill="#c0c0c0"/>
<text transform="translate(1122.7,542.4) rotate(90)" font-family='"Liberation Serif", serif' font-weight="bold" font-size="9.5" fill="#eef2f7" text-anchor="middle" dominant-baseline="central" textLength="18" lengthAdjust="spacingAndGlyphs">VCC</text>
<text transform="translate(1167.3,550) rotate(90)" font-family='"Liberation Serif", serif' font-weight="bold" font-size="9.5" fill="#eef2f7" text-anchor="middle" dominant-baseline="central" textLength="38" lengthAdjust="spacingAndGlyphs">JD-VCC</text>
<polyline points="280.5,199.7 280.7,485.4 877.3,482.7 877,422.6" fill="none" stroke="#000" stroke-width="3.2" stroke-linejoin="miter" stroke-linecap="butt"/>
<polyline points="876.8,199 875.5,149.5 1052,149 1053,374.8 1069,374.8" fill="none" stroke="#000" stroke-width="3" stroke-linejoin="miter" stroke-linecap="butt"/>
<polyline points="117.4,65.4 650,67.5 651,199" fill="none" stroke="#b97a52" stroke-width="2.6" stroke-linejoin="miter" stroke-linecap="butt"/>
<polyline points="396.7,66.8 395.5,199.7" fill="none" stroke="#b97a52" stroke-width="2.6" stroke-linejoin="miter" stroke-linecap="butt"/>
<polyline points="119.7,219.6 421.7,220.7 421.7,85.2 727.4,85.4 727.6,199" fill="none" stroke="#b43cb8" stroke-width="3" stroke-linejoin="miter" stroke-linecap="butt"/>
<polyline points="395.6,220.7 395.6,259.5" fill="none" stroke="#b43cb8" stroke-width="3" stroke-linejoin="miter" stroke-linecap="butt"/>
<polyline points="122,370.3 184.8,370 184.8,292.3 442.7,288.5 442.5,120 777.3,120 777,199" fill="none" stroke="#fa7a1e" stroke-width="3" stroke-linejoin="miter" stroke-linecap="butt"/>
<polyline points="394.4,289.5 394.4,312.8" fill="none" stroke="#fa7a1e" stroke-width="3" stroke-linejoin="miter" stroke-linecap="butt"/>
<polyline points="122,511.4 470.2,509.5 471.4,157.7 850.7,155.4 851,199" fill="none" stroke="#ffea00" stroke-width="3" stroke-linejoin="miter" stroke-linecap="butt"/>
<polyline points="392.7,364.8 470,364.8" fill="none" stroke="#ffea00" stroke-width="3" stroke-linejoin="miter" stroke-linecap="butt"/>
<polyline points="551.3,199 549,14.8 1033.5,15.7 1036,387.6 1068,387.6" fill="none" stroke="#0dcf3a" stroke-width="3.6" stroke-linejoin="miter" stroke-linecap="butt"/>
<polyline points="576.5,199 577,32 1015,32 1019,404.9 1068,404.9" fill="none" stroke="#c0c0c0" stroke-width="3.4" stroke-linejoin="miter" stroke-linecap="butt"/>
<polyline points="601,199 599,49 1003.8,51.7 1008,424 1068,424" fill="none" stroke="#3c46c8" stroke-width="3.5" stroke-linejoin="miter" stroke-linecap="butt"/>
<polyline points="749,199 746.8,65.8 989.2,65.6 994,443.2 1068,443.2" fill="none" stroke="#c0ff00" stroke-width="3.5" stroke-linejoin="miter" stroke-linecap="butt"/>
<polyline points="114,90.6 135.8,90.6 138.6,538.7 801.6,537.5 802,422.6" fill="none" stroke="#e8141e" stroke-width="3" stroke-linejoin="miter" stroke-linecap="butt"/>
<polyline points="119.7,244.8 137.4,244.4" fill="none" stroke="#e8141e" stroke-width="3" stroke-linejoin="miter" stroke-linecap="butt"/>
<polyline points="122,393.2 138,393.2" fill="none" stroke="#e8141e" stroke-width="3" stroke-linejoin="miter" stroke-linecap="butt"/>
<polyline points="122,538.7 138.6,538.7" fill="none" stroke="#e8141e" stroke-width="3" stroke-linejoin="miter" stroke-linecap="butt"/>
<polyline points="902,422.6 902,462.5 1068,460.3" fill="none" stroke="#e8141e" stroke-width="3" stroke-linejoin="miter" stroke-linecap="butt"/>
</svg>
</body></html>
